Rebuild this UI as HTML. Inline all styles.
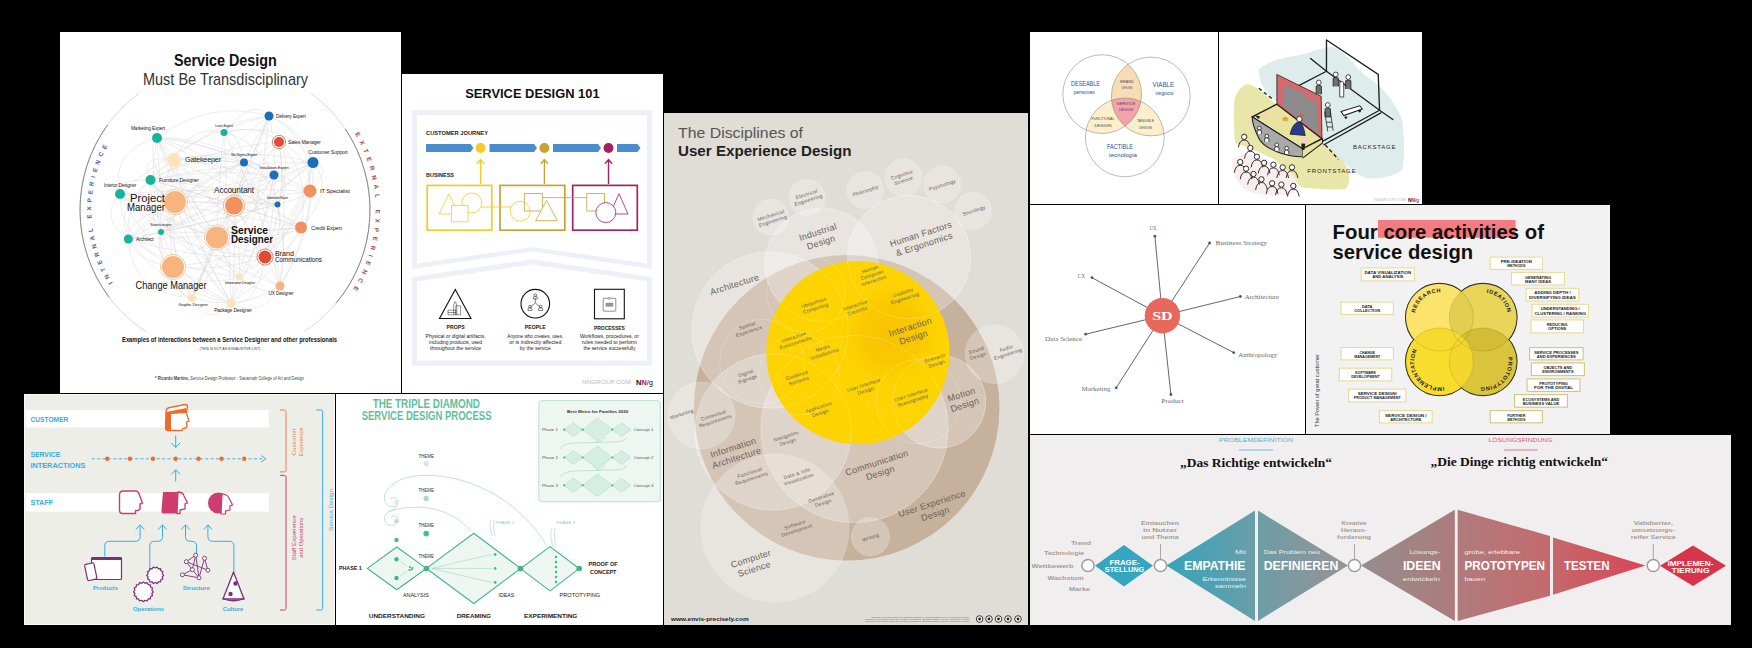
<!DOCTYPE html>
<html><head><meta charset="utf-8"><style>
html,body{margin:0;padding:0;background:#000;width:1752px;height:648px;overflow:hidden}
svg{display:block}

</style></head><body>
<svg width="1752" height="648" viewBox="0 0 1752 648" font-family='"Liberation Sans", sans-serif'>
<defs><clipPath id="cp1"><rect x="60" y="32" width="341" height="361"/></clipPath><clipPath id="cp2"><rect x="402" y="74" width="261" height="319"/></clipPath><clipPath id="cp3"><rect x="24" y="394" width="311" height="231"/></clipPath><clipPath id="cp4"><rect x="336" y="394" width="327" height="231"/></clipPath><clipPath id="cp5"><rect x="664" y="113" width="364" height="512"/></clipPath><clipPath id="cp6"><rect x="1030" y="32" width="188" height="172"/></clipPath><clipPath id="cp7"><rect x="1219" y="32" width="203" height="172"/></clipPath><clipPath id="cp8"><rect x="1030" y="205" width="275" height="229"/></clipPath><clipPath id="cp9"><rect x="1306" y="205" width="304" height="229"/></clipPath><clipPath id="cp10"><rect x="1030" y="435" width="701" height="190"/></clipPath></defs>
<rect x="0" y="0" width="1752" height="648" fill="#000"/>
<rect x="60" y="32" width="341" height="361" fill="#ffffff" /><rect x="402" y="74" width="261" height="319" fill="#ffffff" /><rect x="24" y="394" width="311" height="231" fill="#eeeee9" /><rect x="336" y="394" width="327" height="231" fill="#ffffff" /><rect x="664" y="113" width="364" height="512" fill="#e0dcd6" /><rect x="1030" y="32" width="188" height="172" fill="#ffffff" /><rect x="1219" y="32" width="203" height="172" fill="#ffffff" /><rect x="1030" y="205" width="275" height="229" fill="#ffffff" /><rect x="1306" y="205" width="304" height="229" fill="#f2f2f2" /><rect x="1030" y="435" width="701" height="190" fill="#f0eeef" /><g clip-path="url(#cp1)"><text x="225.3" y="65.9" font-size="16.5" fill="#111" font-weight="bold" text-anchor="middle" font-family='"Liberation Sans", sans-serif' textLength="102.8" lengthAdjust="spacingAndGlyphs" >Service Design</text><text x="225.5" y="85" font-size="17" fill="#333" font-weight="normal" text-anchor="middle" font-family='"Liberation Sans", sans-serif' textLength="165" lengthAdjust="spacingAndGlyphs" >Must Be Transdisciplinary</text><path d="M146.03,331.61 A145,145 0 0 1 138.95,93.29" fill="none" stroke="#cfcfcf" stroke-width="0.8"/><path d="M311.05,93.29 A145,145 0 0 1 304.61,331.19" fill="none" stroke="#cfcfcf" stroke-width="0.8"/><path d="M109.20,297.26 A145,145 0 0 1 107.69,124.77" fill="none" stroke="#888" stroke-width="1"/><path d="M345.21,128.92 A145,145 0 0 1 336.08,303.20" fill="none" stroke="#888" stroke-width="1"/><path id="arcL" d="M115.48,286.69 A133.7,133.7 0 0 1 122.58,124.06" fill="none"/><path id="arcR" d="M351.39,127.92 A150.7,150.7 0 0 1 340.44,306.87" fill="none"/><text font-size="6.2" font-weight="bold" fill="#3b62a8" letter-spacing="3.9"><textPath href="#arcL" startOffset="5">INTERNAL EXPERIENCE</textPath></text><text font-size="6.2" font-weight="bold" fill="#9a4a3c" letter-spacing="4.9"><textPath href="#arcR" startOffset="7">EXTERNAL EXPERIENCE</textPath></text><path d="M269.0,116.0Q253.2,96.8 224.0,132.5 M269.0,116.0Q209.0,98.9 157.0,138.0 M269.0,116.0Q301.2,128.1 313.0,162.5 M269.0,116.0Q263.4,123.2 244.0,162.5 M269.0,116.0Q203.6,122.3 150.5,180.0 M269.0,116.0Q184.1,135.5 120.0,194.0 M269.0,116.0Q311.5,133.6 310.0,191.0 M269.0,116.0Q261.4,141.7 234.0,205.6 M269.0,116.0Q211.2,159.7 161.0,232.0 M269.0,116.0Q245.9,171.1 217.0,237.4 M269.0,116.0Q282.4,177.2 265.0,257.0 M269.0,116.0Q232.6,205.0 192.0,298.0 M269.0,116.0Q260.8,208.4 231.0,303.0 M224.0,132.5Q256.6,123.0 279.0,142.0 M224.0,132.5Q287.6,119.1 313.0,162.5 M224.0,132.5Q190.2,124.0 174.0,160.0 M224.0,132.5Q236.7,128.0 244.0,162.5 M224.0,132.5Q255.1,138.9 274.0,175.0 M224.0,132.5Q218.7,173.9 217.0,237.4 M224.0,132.5Q262.8,208.2 280.0,286.0 M224.0,132.5Q227.9,218.7 231.0,303.0 M157.0,138.0Q142.3,124.4 174.0,160.0 M157.0,138.0Q195.7,138.2 244.0,162.5 M157.0,138.0Q211.9,135.4 274.0,175.0 M157.0,138.0Q109.6,150.6 120.0,194.0 M157.0,138.0Q236.6,147.1 310.0,191.0 M157.0,138.0Q141.6,152.6 175.0,202.0 M157.0,138.0Q213.8,152.9 277.5,204.5 M157.0,138.0Q147.6,180.3 161.0,232.0 M157.0,138.0Q179.0,182.6 217.0,237.4 M157.0,138.0Q230.3,173.1 301.0,227.6 M157.0,138.0Q208.7,195.1 265.0,257.0 M157.0,138.0Q186.6,205.5 239.6,277.0 M157.0,138.0Q159.9,219.7 192.0,298.0 M157.0,138.0Q183.4,223.4 231.0,303.0 M279.0,142.0Q211.9,146.8 150.5,180.0 M279.0,142.0Q311.2,155.6 310.0,191.0 M279.0,142.0Q266.4,161.8 234.0,205.6 M279.0,142.0Q292.9,162.6 277.5,204.5 M279.0,142.0Q196.6,183.3 128.4,239.0 M279.0,142.0Q312.0,175.6 301.0,227.6 M279.0,142.0Q288.6,195.1 265.0,257.0 M279.0,142.0Q226.4,201.8 173.0,267.0 M279.0,142.0Q288.7,214.3 280.0,286.0 M313.0,162.5Q248.8,146.7 174.0,160.0 M313.0,162.5Q311.3,157.5 274.0,175.0 M313.0,162.5Q233.5,160.6 150.5,180.0 M313.0,162.5Q334.3,167.5 310.0,191.0 M313.0,162.5Q289.1,175.1 234.0,205.6 M313.0,162.5Q239.6,194.1 161.0,232.0 M313.0,162.5Q273.2,197.5 217.0,237.4 M313.0,162.5Q336.5,189.0 301.0,227.6 M313.0,162.5Q304.8,209.2 265.0,257.0 M313.0,162.5Q250.2,215.9 173.0,267.0 M313.0,162.5Q297.2,222.9 239.6,277.0 M313.0,162.5Q314.4,227.3 280.0,286.0 M174.0,160.0Q205.5,150.2 244.0,162.5 M174.0,160.0Q223.7,153.8 274.0,175.0 M174.0,160.0Q137.6,153.5 150.5,180.0 M174.0,160.0Q246.0,167.0 310.0,191.0 M174.0,160.0Q156.6,193.0 161.0,232.0 M174.0,160.0Q122.6,194.6 128.4,239.0 M174.0,160.0Q188.0,195.3 217.0,237.4 M174.0,160.0Q240.9,188.8 301.0,227.6 M174.0,160.0Q217.2,207.0 265.0,257.0 M174.0,160.0Q165.7,213.7 173.0,267.0 M174.0,160.0Q192.7,240.0 231.0,303.0 M244.0,162.5Q186.9,156.0 150.5,180.0 M244.0,162.5Q205.8,175.2 175.0,202.0 M244.0,162.5Q242.1,178.0 234.0,205.6 M244.0,162.5Q272.4,174.2 277.5,204.5 M244.0,162.5Q193.7,191.5 161.0,232.0 M244.0,162.5Q169.9,196.0 128.4,239.0 M244.0,162.5Q275.8,228.8 280.0,286.0 M244.0,162.5Q216.3,234.6 192.0,298.0 M274.0,175.0Q208.8,168.0 150.5,180.0 M274.0,175.0Q224.4,183.2 175.0,202.0 M274.0,175.0Q295.3,181.2 277.5,204.5 M274.0,175.0Q215.9,201.7 161.0,232.0 M274.0,175.0Q191.8,205.0 128.4,239.0 M274.0,175.0Q253.4,204.0 217.0,237.4 M274.0,175.0Q267.6,230.7 239.6,277.0 M274.0,175.0Q234.9,242.2 192.0,298.0 M274.0,175.0Q261.0,247.3 231.0,303.0 M150.5,180.0Q109.1,179.7 120.0,194.0 M150.5,180.0Q152.4,187.5 175.0,202.0 M150.5,180.0Q186.1,189.2 234.0,205.6 M150.5,180.0Q209.1,183.5 277.5,204.5 M150.5,180.0Q113.7,208.7 128.4,239.0 M150.5,180.0Q173.7,207.9 217.0,237.4 M150.5,180.0Q226.0,201.0 301.0,227.6 M150.5,180.0Q148.6,225.9 173.0,267.0 M150.5,180.0Q189.4,231.6 239.6,277.0 M150.5,180.0Q184.8,246.6 231.0,303.0 M120.0,194.0Q212.4,187.4 310.0,191.0 M120.0,194.0Q188.5,194.3 277.5,204.5 M120.0,194.0Q97.8,217.7 128.4,239.0 M120.0,194.0Q148.1,217.0 217.0,237.4 M120.0,194.0Q205.3,210.4 301.0,227.6 M120.0,194.0Q185.2,228.5 265.0,257.0 M120.0,194.0Q118.4,237.1 173.0,267.0 M120.0,194.0Q167.3,242.0 239.6,277.0 M120.0,194.0Q189.7,251.6 280.0,286.0 M120.0,194.0Q154.7,263.8 231.0,303.0 M310.0,191.0Q285.6,194.3 234.0,205.6 M310.0,191.0Q320.8,192.1 277.5,204.5 M310.0,191.0Q291.1,241.2 239.6,277.0 M310.0,191.0Q308.5,243.6 280.0,286.0 M310.0,191.0Q278.6,253.2 231.0,303.0 M175.0,202.0Q196.0,200.4 234.0,205.6 M175.0,202.0Q226.4,201.9 277.5,204.5 M175.0,202.0Q122.1,223.9 128.4,239.0 M175.0,202.0Q228.5,256.2 280.0,286.0 M175.0,202.0Q168.4,263.9 192.0,298.0 M175.0,202.0Q194.8,267.7 231.0,303.0 M234.0,205.6Q190.7,220.5 161.0,232.0 M234.0,205.6Q276.2,217.5 301.0,227.6 M234.0,205.6Q257.7,237.8 265.0,257.0 M234.0,205.6Q239.9,248.9 239.6,277.0 M234.0,205.6Q265.2,254.4 280.0,286.0 M234.0,205.6Q210.9,258.8 192.0,298.0 M234.0,205.6Q235.8,273.0 231.0,303.0 M277.5,204.5Q217.1,220.6 161.0,232.0 M277.5,204.5Q195.1,225.2 128.4,239.0 M277.5,204.5Q284.9,236.3 265.0,257.0 M277.5,204.5Q288.4,251.2 280.0,286.0 M161.0,232.0Q122.0,242.1 128.4,239.0 M161.0,232.0Q232.4,233.9 301.0,227.6 M161.0,232.0Q209.1,255.1 265.0,257.0 M161.0,232.0Q154.3,257.7 173.0,267.0 M161.0,232.0Q159.0,284.2 192.0,298.0 M161.0,232.0Q184.2,290.0 231.0,303.0 M128.4,239.0Q212.5,237.9 301.0,227.6 M128.4,239.0Q188.4,258.6 265.0,257.0 M128.4,239.0Q135.7,261.3 173.0,267.0 M128.4,239.0Q173.9,269.3 239.6,277.0 M128.4,239.0Q131.2,293.8 192.0,298.0 M128.4,239.0Q164.8,290.5 231.0,303.0 M217.0,237.4Q272.6,240.7 301.0,227.6 M217.0,237.4Q229.5,273.8 239.6,277.0 M217.0,237.4Q196.9,288.3 192.0,298.0 M301.0,227.6Q295.7,248.9 265.0,257.0 M301.0,227.6Q241.4,260.2 173.0,267.0 M301.0,227.6Q274.5,276.3 231.0,303.0 M265.0,257.0Q217.8,272.3 173.0,267.0 M265.0,257.0Q257.4,307.8 231.0,303.0 M173.0,267.0Q201.1,288.6 239.6,277.0 M173.0,267.0Q174.9,295.0 192.0,298.0 M239.6,277.0Q268.7,299.4 280.0,286.0 M280.0,286.0Q238.8,312.0 192.0,298.0 M280.0,286.0Q264.5,318.9 231.0,303.0 M192.0,298.0Q207.1,329.3 231.0,303.0" fill="none" stroke="#d6d6d6" stroke-width="0.45"/><circle cx="269" cy="116" r="4.5" fill="#1a6fb8"/><text x="276" y="117.5" font-size="4.7" fill="#222" font-weight="normal" text-anchor="start" font-family='"Liberation Sans", sans-serif' letter-spacing="-0.15">Delivery Expert</text><circle cx="224" cy="132.5" r="3.5" fill="#17b39b"/><text x="224" y="127" font-size="3.58" fill="#222" font-weight="normal" text-anchor="middle" font-family='"Liberation Sans", sans-serif' letter-spacing="-0.15">Lean Expert</text><circle cx="157" cy="138" r="5" fill="#17b39b"/><text x="148" y="130" font-size="4.82" fill="#222" font-weight="normal" text-anchor="middle" font-family='"Liberation Sans", sans-serif' letter-spacing="-0.15">Marketing Expert</text><circle cx="279" cy="142" r="6.6" fill="#fff" stroke="#e04b36" stroke-width="0.7"/><circle cx="279" cy="142" r="5" fill="#e04b36"/><text x="288" y="144" font-size="5.15" fill="#222" font-weight="normal" text-anchor="start" font-family='"Liberation Sans", sans-serif' letter-spacing="-0.15">Sales Manager</text><circle cx="313" cy="162.5" r="5.5" fill="#1a6fb8"/><text x="328" y="154" font-size="5.15" fill="#222" font-weight="normal" text-anchor="middle" font-family='"Liberation Sans", sans-serif' letter-spacing="-0.15">Customer Support</text><circle cx="174" cy="160" r="7" fill="#fde2bd"/><text x="185" y="162" font-size="7.17" fill="#222" font-weight="normal" text-anchor="start" font-family='"Liberation Sans", sans-serif' letter-spacing="-0.15">Gatekeeper</text><circle cx="244" cy="162.5" r="4" fill="#1a6fb8"/><text x="244" y="156" font-size="3.7" fill="#222" font-weight="normal" text-anchor="middle" font-family='"Liberation Sans", sans-serif' letter-spacing="-0.15">Six Sigma Expert</text><circle cx="274" cy="175" r="4.5" fill="#1a6fb8"/><text x="274" y="168.5" font-size="4.03" fill="#222" font-weight="normal" text-anchor="middle" font-family='"Liberation Sans", sans-serif' letter-spacing="-0.15">Installation Expert</text><circle cx="150.5" cy="180" r="5" fill="#17b39b"/><text x="159" y="182" font-size="5.15" fill="#222" font-weight="normal" text-anchor="start" font-family='"Liberation Sans", sans-serif' letter-spacing="-0.15">Furniture Designer</text><circle cx="120" cy="194" r="5" fill="#17b39b"/><text x="120" y="187" font-size="4.7" fill="#222" font-weight="normal" text-anchor="middle" font-family='"Liberation Sans", sans-serif' letter-spacing="-0.15">Interior Designer</text><circle cx="310" cy="191" r="6.5" fill="#f2915f"/><text x="320" y="193" font-size="5.82" fill="#222" font-weight="normal" text-anchor="start" font-family='"Liberation Sans", sans-serif' letter-spacing="-0.15">IT Specialist</text><circle cx="175" cy="202" r="12.6" fill="#fff" stroke="#f7b47e" stroke-width="0.7"/><circle cx="175" cy="202" r="11" fill="#f7b47e"/><circle cx="234" cy="205.6" r="10.6" fill="#fff" stroke="#f2915f" stroke-width="0.7"/><circle cx="234" cy="205.6" r="9" fill="#f2915f"/><text x="234" y="192.5" font-size="8.29" fill="#222" font-weight="normal" text-anchor="middle" font-family='"Liberation Sans", sans-serif' letter-spacing="-0.15">Accountant</text><circle cx="277.5" cy="204.5" r="3" fill="#1a6fb8"/><text x="277.5" y="199" font-size="2.91" fill="#222" font-weight="normal" text-anchor="middle" font-family='"Liberation Sans", sans-serif' letter-spacing="-0.15">Information Expert</text><circle cx="161" cy="232" r="3" fill="#17b39b"/><text x="161" y="226" font-size="2.91" fill="#222" font-weight="normal" text-anchor="middle" font-family='"Liberation Sans", sans-serif' letter-spacing="-0.15">Business designer</text><circle cx="128.4" cy="239" r="4.5" fill="#17b39b"/><text x="136" y="241" font-size="4.82" fill="#222" font-weight="normal" text-anchor="start" font-family='"Liberation Sans", sans-serif' letter-spacing="-0.15">Architect</text><circle cx="217" cy="237.4" r="12.6" fill="#fff" stroke="#f7b47e" stroke-width="0.7"/><circle cx="217" cy="237.4" r="11" fill="#f7b47e"/><circle cx="301" cy="227.6" r="6" fill="#f2915f"/><text x="311" y="229.5" font-size="5.6" fill="#222" font-weight="normal" text-anchor="start" font-family='"Liberation Sans", sans-serif' letter-spacing="-0.15">Credit Expert</text><circle cx="265" cy="257" r="8.1" fill="#fff" stroke="#e04b36" stroke-width="0.7"/><circle cx="265" cy="257" r="6.5" fill="#e04b36"/><circle cx="173" cy="267" r="12.6" fill="#fff" stroke="#f7b47e" stroke-width="0.7"/><circle cx="173" cy="267" r="11" fill="#f7b47e"/><circle cx="239.6" cy="277" r="3.5" fill="#fde2bd"/><text x="240" y="284" font-size="3.58" fill="#222" font-weight="normal" text-anchor="middle" font-family='"Liberation Sans", sans-serif' letter-spacing="-0.15">Information Designer</text><circle cx="280" cy="286" r="4.5" fill="#f7b47e"/><text x="281" y="295" font-size="4.7" fill="#222" font-weight="normal" text-anchor="middle" font-family='"Liberation Sans", sans-serif' letter-spacing="-0.15">UX Designer</text><circle cx="192" cy="298" r="4" fill="#fde2bd"/><text x="193" y="306" font-size="4.14" fill="#222" font-weight="normal" text-anchor="middle" font-family='"Liberation Sans", sans-serif' letter-spacing="-0.15">Graphic Designer</text><circle cx="231" cy="303" r="4.5" fill="#fde2bd"/><text x="233" y="311.5" font-size="4.93" fill="#222" font-weight="normal" text-anchor="middle" font-family='"Liberation Sans", sans-serif' letter-spacing="-0.15">Package Designer</text><text x="165" y="201.5" font-size="11" fill="#111" font-weight="normal" text-anchor="end" font-family='"Liberation Sans", sans-serif' textLength="35" lengthAdjust="spacingAndGlyphs" >Project</text><text x="165" y="211" font-size="11" fill="#111" font-weight="normal" text-anchor="end" font-family='"Liberation Sans", sans-serif' textLength="38" lengthAdjust="spacingAndGlyphs" >Manager</text><text x="231" y="234" font-size="11" fill="#111" font-weight="bold" text-anchor="start" font-family='"Liberation Sans", sans-serif' textLength="37" lengthAdjust="spacingAndGlyphs" >Service</text><text x="231" y="242.5" font-size="11" fill="#111" font-weight="bold" text-anchor="start" font-family='"Liberation Sans", sans-serif' textLength="42" lengthAdjust="spacingAndGlyphs" >Designer</text><text x="275" y="256" font-size="7.5" fill="#111" font-weight="normal" text-anchor="start" font-family='"Liberation Sans", sans-serif' textLength="19" lengthAdjust="spacingAndGlyphs" >Brand</text><text x="275" y="262" font-size="7.5" fill="#111" font-weight="normal" text-anchor="start" font-family='"Liberation Sans", sans-serif' textLength="47" lengthAdjust="spacingAndGlyphs" >Communications</text><text x="171" y="289" font-size="11" fill="#111" font-weight="normal" text-anchor="middle" font-family='"Liberation Sans", sans-serif' textLength="71" lengthAdjust="spacingAndGlyphs" >Change Manager</text><text x="229.5" y="341.5" font-size="7" fill="#111" font-weight="bold" text-anchor="middle" font-family='"Liberation Sans", sans-serif' textLength="215" lengthAdjust="spacingAndGlyphs" >Examples of interactions between a Service Designer and other professionals</text><text x="230" y="349.5" font-size="3.6" fill="#444" font-weight="normal" text-anchor="middle" font-family='"Liberation Sans", sans-serif' textLength="61" lengthAdjust="spacingAndGlyphs" >(THIS IS NOT AN EXHAUSTIVE LIST)</text><text x="155" y="379.5" font-size="4.6" fill="#444" font-weight="normal" text-anchor="start" font-family='"Liberation Sans", sans-serif' textLength="149" lengthAdjust="spacingAndGlyphs" ><tspan font-weight="bold">* Ricardo Martins,</tspan> Service Design Professor - Savannah College of Art and Design</text></g><g clip-path="url(#cp2)"><text x="532.4" y="98" font-size="12.5" fill="#111" font-weight="bold" text-anchor="middle" font-family='"Liberation Sans", sans-serif' textLength="134.5" lengthAdjust="spacingAndGlyphs" >SERVICE DESIGN 101</text><polygon points="412.00,110.00 652.00,110.00 652.00,269.00 532.30,251.50 412.00,269.00" fill="#eef0f7" stroke="none" stroke-width="1" /><polygon points="416.90,115.00 647.00,115.00 647.00,263.40 532.30,247.00 416.90,263.40" fill="#fff" stroke="none" stroke-width="1" /><polygon points="412.00,277.10 532.30,259.30 652.00,277.10 652.00,365.80 412.00,365.80" fill="#eef0f7" stroke="none" stroke-width="1" /><polygon points="416.90,281.30 532.30,264.50 647.00,281.30 647.00,360.80 416.90,360.80" fill="#fff" stroke="none" stroke-width="1" /><text x="426" y="135" font-size="4.6" fill="#222" font-weight="bold" text-anchor="start" font-family='"Liberation Sans", sans-serif' textLength="62" lengthAdjust="spacingAndGlyphs" >CUSTOMER JOURNEY</text><text x="426" y="177" font-size="4.6" fill="#222" font-weight="bold" text-anchor="start" font-family='"Liberation Sans", sans-serif' textLength="28" lengthAdjust="spacingAndGlyphs" >BUSINESS</text><polygon points="426.00,144.00 470.50,144.00 473.50,148.00 470.50,152.00 426.00,152.00" fill="#4a8dcf" stroke="none" stroke-width="1" /><polygon points="489.50,144.00 534.00,144.00 537.00,148.00 534.00,152.00 489.50,152.00" fill="#4a8dcf" stroke="none" stroke-width="1" /><polygon points="553.00,144.00 598.00,144.00 601.00,148.00 598.00,152.00 553.00,152.00" fill="#4a8dcf" stroke="none" stroke-width="1" /><polygon points="617.00,144.00 637.50,144.00 640.50,148.00 637.50,152.00 617.00,152.00" fill="#4a8dcf" stroke="none" stroke-width="1" /><circle cx="480.6" cy="148" r="5" fill="#f8c928"/><path d="M480.6,184 V159.8 M477.0,163.8 L480.6,159.6 L484.20000000000005,163.8" fill="none" stroke="#f8c928" stroke-width="1.4"/><circle cx="544.4" cy="148" r="5" fill="#c9a232"/><path d="M544.4,184 V159.8 M540.8,163.8 L544.4,159.6 L548.0,163.8" fill="none" stroke="#c9a232" stroke-width="1.4"/><circle cx="608.5" cy="148" r="5" fill="#a3235f"/><path d="M608.5,184 V159.8 M604.9,163.8 L608.5,159.6 L612.1,163.8" fill="none" stroke="#a3235f" stroke-width="1.4"/><rect x="427.2" y="185.4" width="64.6" height="44.8" fill="none" stroke="#f8c928" stroke-width="1.7"/><rect x="500" y="185.4" width="64.8" height="44.8" fill="none" stroke="#c9a232" stroke-width="1.7"/><rect x="572.7" y="185.4" width="64.6" height="44.8" fill="none" stroke="#a3235f" stroke-width="1.7"/><path d="M468,207 H520" stroke="#f8c928" stroke-width="0.8"/><polygon points="449.00,194.00 459.00,214.00 439.00,214.00" fill="#fff" stroke="#f8c928" stroke-width="0.8" /><circle cx="471.8" cy="203" r="10" fill="#fff" stroke="#f8c928" stroke-width="0.8"/><rect x="451.5" y="205.3" width="16.5" height="16.5" fill="#fff" stroke="#f8c928" stroke-width="0.8"/><circle cx="520.2" cy="211.2" r="10" fill="#fff" stroke="#f8c928" stroke-width="0.8"/><path d="M542.5,197.6 H587" stroke="#c9a232" stroke-width="0.8"/><rect x="524.3" y="193.6" width="18" height="17.4" fill="none" stroke="#c9a232" stroke-width="0.8"/><polygon points="546.50,200.40 557.40,220.70 535.70,220.70" fill="#fff" stroke="#c9a232" stroke-width="0.8" /><rect x="586.8" y="193.6" width="17.6" height="17.4" fill="#fff" stroke="#c9a232" stroke-width="0.8"/><polygon points="619.00,193.60 628.00,214.00 610.00,214.00" fill="#fff" stroke="#a3235f" stroke-width="0.8" /><circle cx="605.8" cy="212.6" r="10" fill="#fff" stroke="#a3235f" stroke-width="0.8"/><polygon points="455.30,289.50 471.00,318.50 439.50,318.50" fill="#fff" stroke="#111" stroke-width="1.1" /><path d="M448,310.2 h7.8 v4.6 h-7.8z M448,312.5 h7.8 M453.6,314.8 V305 l0.8,-1.5 v-1.5 h1.6 v1.5 l0.8,1.5 V314.8 M455.8,305.8 h4.8 v9 h-4.8z" fill="#fff" stroke="#111" stroke-width="0.45"/><circle cx="535.3" cy="303.7" r="14.3" fill="#fff" stroke="#111" stroke-width="1.1"/><path d="M535.3,298 v5 l-5,4 M535.3,303 l5,4" fill="none" stroke="#111" stroke-width="0.5"/><circle cx="535.3" cy="295.2" r="1.4" fill="none" stroke="#111" stroke-width="0.5"/><path d="M533.3,299 v-2 q2,-2 4,0 v2z" fill="none" stroke="#111" stroke-width="0.5"/><circle cx="530" cy="306.7" r="1.4" fill="none" stroke="#111" stroke-width="0.5"/><path d="M528,310.5 v-2 q2,-2 4,0 v2z" fill="none" stroke="#111" stroke-width="0.5"/><circle cx="540.6" cy="306.7" r="1.4" fill="none" stroke="#111" stroke-width="0.5"/><path d="M538.6,310.5 v-2 q2,-2 4,0 v2z" fill="none" stroke="#111" stroke-width="0.5"/><rect x="594.5" y="289.3" width="29.8" height="29.5" fill="#fff" stroke="#111" stroke-width="1.1"/><rect x="603.2" y="298.3" width="12.6" height="12.9" rx="0.8" fill="#fff" stroke="#444" stroke-width="0.6"/><rect x="605.6" y="302.8" width="7.6" height="3.8" fill="#888"/><path d="M605.6,304.1 h7.6 M605.6,305.4 h7.6" stroke="#ccc" stroke-width="0.3"/><circle cx="609.2" cy="298.4" r="1.1" fill="#fff" stroke="#555" stroke-width="0.5"/><text x="455.6" y="329" font-size="5" fill="#222" font-weight="bold" text-anchor="middle" font-family='"Liberation Sans", sans-serif' textLength="18" lengthAdjust="spacingAndGlyphs" >PROPS</text><text x="535.3" y="329" font-size="5" fill="#222" font-weight="bold" text-anchor="middle" font-family='"Liberation Sans", sans-serif' textLength="21" lengthAdjust="spacingAndGlyphs" >PEOPLE</text><text x="609.4" y="329.5" font-size="5" fill="#222" font-weight="bold" text-anchor="middle" font-family='"Liberation Sans", sans-serif' textLength="31" lengthAdjust="spacingAndGlyphs" >PROCESSES</text><text x="455.6" y="337.5" font-size="4.6" fill="#222" font-weight="normal" text-anchor="middle" font-family='"Liberation Sans", sans-serif' textLength="60" lengthAdjust="spacingAndGlyphs" >Physical or digital artifacts,</text><text x="455.6" y="343.5" font-size="4.6" fill="#222" font-weight="normal" text-anchor="middle" font-family='"Liberation Sans", sans-serif' textLength="53" lengthAdjust="spacingAndGlyphs" >including products, used</text><text x="455.6" y="349.5" font-size="4.6" fill="#222" font-weight="normal" text-anchor="middle" font-family='"Liberation Sans", sans-serif' textLength="51" lengthAdjust="spacingAndGlyphs" >throughout the service</text><text x="535.3" y="337.5" font-size="4.6" fill="#222" font-weight="normal" text-anchor="middle" font-family='"Liberation Sans", sans-serif' textLength="56" lengthAdjust="spacingAndGlyphs" >Anyone who creates, uses,</text><text x="535.3" y="343.5" font-size="4.6" fill="#222" font-weight="normal" text-anchor="middle" font-family='"Liberation Sans", sans-serif' textLength="52" lengthAdjust="spacingAndGlyphs" >or is indirectly affected</text><text x="535.3" y="349.5" font-size="4.6" fill="#222" font-weight="normal" text-anchor="middle" font-family='"Liberation Sans", sans-serif' textLength="31" lengthAdjust="spacingAndGlyphs" >by the service</text><text x="609.4" y="337.5" font-size="4.6" fill="#222" font-weight="normal" text-anchor="middle" font-family='"Liberation Sans", sans-serif' textLength="59" lengthAdjust="spacingAndGlyphs" >Workflows, procedures, or</text><text x="609.4" y="343.5" font-size="4.6" fill="#222" font-weight="normal" text-anchor="middle" font-family='"Liberation Sans", sans-serif' textLength="55" lengthAdjust="spacingAndGlyphs" >rules needed to perform</text><text x="609.4" y="349.5" font-size="4.6" fill="#222" font-weight="normal" text-anchor="middle" font-family='"Liberation Sans", sans-serif' textLength="52" lengthAdjust="spacingAndGlyphs" >the service successfully</text><text x="582" y="384" font-size="5.5" fill="#bbb" font-weight="normal" text-anchor="start" font-family='"Liberation Sans", sans-serif' textLength="49" lengthAdjust="spacingAndGlyphs" >NNGROUP.COM</text><text x="636" y="385" font-size="8" font-weight="bold" fill="#111" font-family='"Liberation Sans", sans-serif' textLength="17" lengthAdjust="spacingAndGlyphs">N<tspan fill="#d0122a">N</tspan><tspan font-weight="normal">/g</tspan></text></g><g clip-path="url(#cp3)"><rect x="24.5" y="394.5" width="310" height="230" fill="none" stroke="#fafaf7" stroke-width="1"/><rect x="25.8" y="410" width="242.89999999999998" height="17.399999999999977" fill="#fff" /><rect x="25.8" y="493" width="242.89999999999998" height="18.600000000000023" fill="#fff" /><text x="30.4" y="422" font-size="6.6" fill="#38abe3" font-weight="bold" text-anchor="start" font-family='"Liberation Sans", sans-serif' textLength="38" lengthAdjust="spacingAndGlyphs" >CUSTOMER</text><text x="30.4" y="456.5" font-size="6.6" fill="#38abe3" font-weight="bold" text-anchor="start" font-family='"Liberation Sans", sans-serif' textLength="30" lengthAdjust="spacingAndGlyphs" >SERVICE</text><text x="30.4" y="467.5" font-size="6.6" fill="#38abe3" font-weight="bold" text-anchor="start" font-family='"Liberation Sans", sans-serif' textLength="55" lengthAdjust="spacingAndGlyphs" >INTERACTIONS</text><text x="30.4" y="505" font-size="6.6" fill="#38abe3" font-weight="bold" text-anchor="start" font-family='"Liberation Sans", sans-serif' textLength="22.5" lengthAdjust="spacingAndGlyphs" >STAFF</text><path d="M91.8,458.8 H264" stroke="#38abe3" stroke-width="0.9" stroke-dasharray="3.2,2.2"/><path d="M261,455.5 L266,458.8 L261,462" fill="none" stroke="#38abe3" stroke-width="0.9"/><circle cx="107.2" cy="458.8" r="2.2" fill="#ef6a2c"/><circle cx="130" cy="458.8" r="2.2" fill="#ef6a2c"/><circle cx="152.9" cy="458.8" r="2.2" fill="#ef6a2c"/><circle cx="175.6" cy="458.8" r="2.2" fill="#ef6a2c"/><circle cx="198.6" cy="458.8" r="2.2" fill="#ef6a2c"/><circle cx="221.5" cy="458.8" r="2.2" fill="#ef6a2c"/><circle cx="244.2" cy="458.8" r="2.2" fill="#ef6a2c"/><path d="M175.7,435.5 V447.5 M171.4,443 L175.7,447.5 L180,443" fill="none" stroke="#38abe3" stroke-width="1"/><path d="M175.7,481.5 V469.8 M171.4,474.3 L175.7,469.8 L180,474.3" fill="none" stroke="#38abe3" stroke-width="1"/><path d="M166,412 Q166,408 170,407.5 L185,404.5 Q187.5,404.5 187.5,407 L186.5,413 L189,421 L186.5,422 L187,426 Q186,429 183,428.5 L182,430.5 H168 Q165.5,430.5 165.5,428 Z" fill="#fff" stroke="#ef6a2c" stroke-width="1.3"/><path d="M166,412 L186.5,408 L186.5,413 L171,414 L171,430 H166Z" fill="#ef6a2c"/><path d="M119.5,495 Q119.5,491 123.5,491 H135.5 Q138.5,491 139.5,495 L142.5,503 L140.0,504 L140.0,509 Q138.5,511 135.5,510.5 L135.5,513.5 H122.5 Q119.5,513.5 119.5,510Z" fill="#fff" stroke="#cc3d6e" stroke-width="1.4"/><path d="M163,492 H178 L179,513.5 H164 Q161,513.5 161.5,510 Z" fill="#cc3d6e"/><path d="M178,492 Q183,492 184,496 L187.5,503 L185,504 L185,509 L180,510 L180,513.5 H177Z" fill="#fff" stroke="#cc3d6e" stroke-width="1.3"/><circle cx="218.5" cy="503" r="10.5" fill="#cc3d6e"/><path d="M222,494 Q227,494 229,498 L232.5,505 L230,506 L230,510 L225.5,511 L225.5,514 H221Z" fill="#fff" stroke="#cc3d6e" stroke-width="1.2"/><path d="M104.8,556.6 V546 Q104.8,541.3 109.5,541.3 H135.4 Q140.1,541.3 140.1,536.6 V525.5 M135.9,529.5 L140.1,524.8 L144.3,529.5" fill="none" stroke="#38abe3" stroke-width="1"/><path d="M149.8,569.3 V546 Q149.8,541.3 154.5,541.3 H157.8 Q162.5,541.3 162.5,536.6 V525.5 M158.3,529.5 L162.5,524.8 L166.7,529.5" fill="none" stroke="#38abe3" stroke-width="1"/><path d="M196.5,553.2 V546 Q196.5,541.3 191.8,541.3 H190.2 Q185.5,541.3 185.5,536.6 V525.5 M181.3,529.5 L185.5,524.8 L189.7,529.5" fill="none" stroke="#38abe3" stroke-width="1"/><path d="M233.9,571.9 V546 Q233.9,541.3 229.2,541.3 H212.6 Q207.9,541.3 207.9,536.6 V525.5 M203.7,529.5 L207.9,524.8 L212.1,529.5" fill="none" stroke="#38abe3" stroke-width="1"/><rect x="91.5" y="557.5" width="30" height="22" rx="1" fill="#fff" stroke="#7b2f7a" stroke-width="1.2"/><rect x="91.5" y="557.5" width="30" height="2.5" fill="#7b2f7a"/><rect x="86" y="563.5" width="9.5" height="16.5" rx="1.5" fill="#fff" stroke="#7b2f7a" stroke-width="1.2" transform="rotate(-12 90.7 571.7)"/><polygon points="163.70,575.30 162.22,576.90 162.86,578.99 160.83,579.79 160.50,581.95 158.32,581.79 157.09,583.59 155.20,582.50 153.31,583.59 152.08,581.79 149.90,581.95 149.57,579.79 147.54,578.99 148.18,576.90 146.70,575.30 148.18,573.70 147.54,571.61 149.57,570.81 149.90,568.65 152.08,568.81 153.31,567.01 155.20,568.10 157.09,567.01 158.32,568.81 160.50,568.65 160.83,570.81 162.86,571.61 162.22,573.70" fill="#fff" stroke="#7b2f7a" stroke-width="1.2" stroke-linejoin="round"/><polygon points="153.30,591.80 151.83,593.48 152.55,595.59 150.55,596.58 150.40,598.80 148.18,598.95 147.19,600.95 145.08,600.23 143.40,601.70 141.72,600.23 139.61,600.95 138.62,598.95 136.40,598.80 136.25,596.58 134.25,595.59 134.97,593.48 133.50,591.80 134.97,590.12 134.25,588.01 136.25,587.02 136.40,584.80 138.62,584.65 139.61,582.65 141.72,583.37 143.40,581.90 145.08,583.37 147.19,582.65 148.18,584.65 150.40,584.80 150.55,587.02 152.55,588.01 151.83,590.12" fill="#fff" stroke="#7b2f7a" stroke-width="1.2" stroke-linejoin="round"/><path d="M195.7,555.2L186.3,561.7 M195.7,555.2L199,577.8 M204.5,558.3L199,577.8 M204.5,558.3L207.9,570.2 M186.3,561.7L207.9,570.2 M192.3,569.7L182.4,574.8 M186.3,561.7L192.3,569.7 M192.3,569.7L199,577.8 M182.4,574.8L199,577.8 M195.7,555.2L192.3,569.7" stroke="#7b2f7a" stroke-width="0.9"/><circle cx="195.7" cy="555.2" r="2" fill="#fff" stroke="#7b2f7a" stroke-width="0.9"/><circle cx="204.5" cy="558.3" r="2" fill="#fff" stroke="#7b2f7a" stroke-width="0.9"/><circle cx="186.3" cy="561.7" r="2" fill="#fff" stroke="#7b2f7a" stroke-width="0.9"/><circle cx="192.3" cy="569.7" r="2" fill="#fff" stroke="#7b2f7a" stroke-width="0.9"/><circle cx="207.9" cy="570.2" r="2" fill="#fff" stroke="#7b2f7a" stroke-width="0.9"/><circle cx="182.4" cy="574.8" r="2" fill="#fff" stroke="#7b2f7a" stroke-width="0.9"/><circle cx="199" cy="577.8" r="2" fill="#fff" stroke="#7b2f7a" stroke-width="0.9"/><polygon points="233.50,572.00 244.00,599.00 223.00,599.00" fill="#fff" stroke="#7b2f7a" stroke-width="1.3" stroke-linejoin="round"/><path d="M222.5,598.5 Q233.5,603 244.5,598.5" fill="none" stroke="#7b2f7a" stroke-width="1.3"/><circle cx="235.5" cy="583.5" r="2.2" fill="#7b2f7a"/><circle cx="230.5" cy="594" r="2.2" fill="#7b2f7a"/><text x="105.5" y="590" font-size="5.2" fill="#38abe3" font-weight="bold" text-anchor="middle" font-family='"Liberation Sans", sans-serif' textLength="25" lengthAdjust="spacingAndGlyphs" >Products</text><text x="148.5" y="611" font-size="5.2" fill="#38abe3" font-weight="bold" text-anchor="middle" font-family='"Liberation Sans", sans-serif' textLength="31" lengthAdjust="spacingAndGlyphs" >Operations</text><text x="196.3" y="590" font-size="5.2" fill="#38abe3" font-weight="bold" text-anchor="middle" font-family='"Liberation Sans", sans-serif' textLength="27" lengthAdjust="spacingAndGlyphs" >Structure</text><text x="233" y="611" font-size="5.2" fill="#38abe3" font-weight="bold" text-anchor="middle" font-family='"Liberation Sans", sans-serif' textLength="20.5" lengthAdjust="spacingAndGlyphs" >Culture</text><path d="M280,410 H284.5 Q286,410 286,411.5 V470.4 Q286,471.9 284.5,471.9 H280" fill="none" stroke="#f08048" stroke-width="1"/><path d="M280,475.4 H284.5 Q286,475.4 286,476.9 V608.5 Q286,610 284.5,610 H280" fill="none" stroke="#cc3d6e" stroke-width="1"/><path d="M316.4,410 H321.1 Q322.6,410 322.6,411.5 V608.5 Q322.6,610 321.1,610 H316.4" fill="none" stroke="#38abe3" stroke-width="1"/><g transform="translate(295.5 442) rotate(-90)"><text x="0" y="0" font-size="5.2" fill="#f08048" font-weight="normal" text-anchor="middle" font-family='"Liberation Sans", sans-serif' textLength="27" lengthAdjust="spacingAndGlyphs" >Customer</text><text x="0" y="7.2" font-size="5.2" fill="#f08048" font-weight="normal" text-anchor="middle" font-family='"Liberation Sans", sans-serif' textLength="29" lengthAdjust="spacingAndGlyphs" >Experience</text></g><g transform="translate(295.5 537.7) rotate(-90)"><text x="0" y="0" font-size="5.2" fill="#cc3d6e" font-weight="normal" text-anchor="middle" font-family='"Liberation Sans", sans-serif' textLength="45" lengthAdjust="spacingAndGlyphs" >Staff Experience</text><text x="0" y="7.2" font-size="5.2" fill="#cc3d6e" font-weight="normal" text-anchor="middle" font-family='"Liberation Sans", sans-serif' textLength="40" lengthAdjust="spacingAndGlyphs" >and Operations</text></g><g transform="translate(332.5 510) rotate(-90)"><text x="0" y="0" font-size="5.2" fill="#38abe3" font-weight="normal" text-anchor="middle" font-family='"Liberation Sans", sans-serif' textLength="42" lengthAdjust="spacingAndGlyphs" >Service Design</text></g></g><g clip-path="url(#cp4)"><text x="426.3" y="408.3" font-size="12" fill="#5fbf9c" font-weight="bold" text-anchor="middle" font-family='"Liberation Sans", sans-serif' textLength="107.3" lengthAdjust="spacingAndGlyphs" >THE TRIPLE DIAMOND</text><text x="426.6" y="419.7" font-size="12" fill="#5fbf9c" font-weight="bold" text-anchor="middle" font-family='"Liberation Sans", sans-serif' textLength="129.8" lengthAdjust="spacingAndGlyphs" >SERVICE DESIGN PROCESS</text><rect x="538.8" y="400.7" width="121.5" height="101" rx="2.5" fill="#eef6f2" stroke="#a9d9c2" stroke-width="0.8"/><text x="597.7" y="412.5" font-size="4.3" fill="#333" font-weight="bold" text-anchor="middle" font-family='"Liberation Sans", sans-serif' textLength="61.4" lengthAdjust="spacingAndGlyphs" >Best Metro for Families 2020</text><text x="542" y="431.2" font-size="4" fill="#555" font-weight="normal" text-anchor="start" font-family='"Liberation Sans", sans-serif' textLength="15.8" lengthAdjust="spacingAndGlyphs" >Phase 1</text><text x="633.7" y="431.2" font-size="4" fill="#555" font-weight="normal" text-anchor="start" font-family='"Liberation Sans", sans-serif' textLength="19.7" lengthAdjust="spacingAndGlyphs" >Concept 1</text><polygon points="564.20,429.70 573.40,422.70 582.70,429.70 573.40,436.70" fill="#d6ede2" stroke="#a9d9c2" stroke-width="0.5" /><polygon points="582.70,429.70 597.50,418.30 612.30,429.70 597.50,441.10" fill="#d6ede2" stroke="#a9d9c2" stroke-width="0.5" /><polygon points="612.30,429.70 621.60,422.70 630.90,429.70 621.60,436.70" fill="#d6ede2" stroke="#a9d9c2" stroke-width="0.5" /><circle cx="564.2" cy="429.7" r="1.1" fill="#3fb68b"/><circle cx="582.7" cy="429.7" r="1.1" fill="#3fb68b"/><circle cx="612.3" cy="429.7" r="1.1" fill="#3fb68b"/><text x="542" y="459.0" font-size="4" fill="#555" font-weight="normal" text-anchor="start" font-family='"Liberation Sans", sans-serif' textLength="15.8" lengthAdjust="spacingAndGlyphs" >Phase 2</text><text x="633.7" y="459.0" font-size="4" fill="#555" font-weight="normal" text-anchor="start" font-family='"Liberation Sans", sans-serif' textLength="19.7" lengthAdjust="spacingAndGlyphs" >Concept 2</text><polygon points="564.20,457.50 573.40,450.50 582.70,457.50 573.40,464.50" fill="#d6ede2" stroke="#a9d9c2" stroke-width="0.5" /><polygon points="582.70,457.50 597.50,446.10 612.30,457.50 597.50,468.90" fill="#d6ede2" stroke="#a9d9c2" stroke-width="0.5" /><polygon points="612.30,457.50 621.60,450.50 630.90,457.50 621.60,464.50" fill="#d6ede2" stroke="#a9d9c2" stroke-width="0.5" /><circle cx="564.2" cy="457.5" r="1.1" fill="#3fb68b"/><circle cx="582.7" cy="457.5" r="1.1" fill="#3fb68b"/><circle cx="612.3" cy="457.5" r="1.1" fill="#3fb68b"/><text x="542" y="486.8" font-size="4" fill="#555" font-weight="normal" text-anchor="start" font-family='"Liberation Sans", sans-serif' textLength="15.8" lengthAdjust="spacingAndGlyphs" >Phase 3</text><text x="633.7" y="486.8" font-size="4" fill="#555" font-weight="normal" text-anchor="start" font-family='"Liberation Sans", sans-serif' textLength="19.7" lengthAdjust="spacingAndGlyphs" >Concept 3</text><polygon points="564.20,485.30 573.40,478.30 582.70,485.30 573.40,492.30" fill="#d6ede2" stroke="#a9d9c2" stroke-width="0.5" /><polygon points="582.70,485.30 597.50,473.90 612.30,485.30 597.50,496.70" fill="#d6ede2" stroke="#a9d9c2" stroke-width="0.5" /><polygon points="612.30,485.30 621.60,478.30 630.90,485.30 621.60,492.30" fill="#d6ede2" stroke="#a9d9c2" stroke-width="0.5" /><circle cx="564.2" cy="485.3" r="1.1" fill="#3fb68b"/><circle cx="582.7" cy="485.3" r="1.1" fill="#3fb68b"/><circle cx="612.3" cy="485.3" r="1.1" fill="#3fb68b"/><path d="M626.5,437 Q627,442 612,442 L575,443 Q561,444 561,449 M626.5,465 Q627,470 612,470 L575,471 Q561,472 561,477 M605,437 Q604,441 596,442 M605,465 Q604,469 596,470" fill="none" stroke="#8fcfb3" stroke-width="0.5"/><path d="M546.4,545.6 C520,500 470,476 428.7,475.3 C395,475 383,490 384.5,500 C386,508 396,509 398,503 C399,498 392,496 390,499" fill="none" stroke="#a5d8c1" stroke-width="0.7"/><path d="M470.8,531.3 C455,512 430,506 414.5,507.4 C395,508 384,511 384.5,519 C385,527 396,527 398,521 C399,516 393,514 391,518" fill="none" stroke="#a5d8c1" stroke-width="0.7"/><path d="M398,503 Q396,510 388,512" fill="none" stroke="#a5d8c1" stroke-width="0.6"/><polygon points="367.40,568.40 396.80,547.00 426.40,568.40 396.80,589.80" fill="#eef6f2" stroke="#3fb68b" stroke-width="1.1" /><polygon points="426.40,568.40 473.80,533.30 520.60,568.40 473.80,603.50" fill="#eef6f2" stroke="#3fb68b" stroke-width="1.1" /><polygon points="520.50,568.60 550.00,546.60 579.20,568.60 550.00,590.90" fill="#eef6f2" stroke="#3fb68b" stroke-width="1.1" /><circle cx="426.4" cy="568.5" r="2.8" fill="#3fb68b"/><circle cx="520.5" cy="568.5" r="2.8" fill="#3fb68b"/><circle cx="579.2" cy="568.5" r="2.8" fill="#3fb68b"/><circle cx="396.5" cy="559.3" r="2.2" fill="#3fb68b"/><circle cx="396.5" cy="578" r="2.2" fill="#3fb68b"/><circle cx="410" cy="567" r="1.1" fill="#3fb68b"/><circle cx="411.5" cy="569.5" r="1.1" fill="#3fb68b"/><circle cx="409.5" cy="570" r="1.1" fill="#3fb68b"/><circle cx="412.5" cy="568" r="1" fill="#3fb68b"/><path d="M400,561 L407,566 M400,576 L407,571" stroke="#8fcfb3" stroke-width="0.5"/><circle cx="495.2" cy="554.4" r="1.3" fill="#3fb68b"/><path d="M432,568.4 Q460,561.4 492,554.4" fill="none" stroke="#8fcfb3" stroke-width="0.5"/><circle cx="495.2" cy="568.4" r="1.3" fill="#3fb68b"/><path d="M432,568.4 Q460,568.4 492,568.4" fill="none" stroke="#8fcfb3" stroke-width="0.5"/><circle cx="495.2" cy="582.4" r="1.3" fill="#3fb68b"/><path d="M432,568.4 Q460,575.4 492,582.4" fill="none" stroke="#8fcfb3" stroke-width="0.5"/><circle cx="556" cy="557" r="1.2" fill="#3fb68b"/><circle cx="556" cy="562" r="1.2" fill="#3fb68b"/><circle cx="556" cy="567" r="1.2" fill="#3fb68b"/><circle cx="556" cy="572" r="1.2" fill="#3fb68b"/><circle cx="556" cy="577" r="1.2" fill="#3fb68b"/><circle cx="556" cy="582" r="1.2" fill="#3fb68b"/><circle cx="426.2" cy="463.4" r="2.7" fill="#d2ebdf"/><circle cx="426.2" cy="498.5" r="2.7" fill="#abd9c4"/><circle cx="426.2" cy="533.6" r="2.8" fill="#4fb98f"/><circle cx="396.5" cy="540" r="2.2" fill="#4fb98f"/><circle cx="396.5" cy="502.2" r="2.2" fill="#d8eee3"/><circle cx="396.5" cy="521.3" r="2.2" fill="#bde0cf"/><text x="426.2" y="457.5" font-size="5" fill="#333" font-weight="normal" text-anchor="middle" font-family='"Liberation Sans", sans-serif' textLength="15.6" lengthAdjust="spacingAndGlyphs" >THEME</text><text x="426.2" y="492.3" font-size="5" fill="#333" font-weight="normal" text-anchor="middle" font-family='"Liberation Sans", sans-serif' textLength="15.6" lengthAdjust="spacingAndGlyphs" >THEME</text><text x="426.2" y="527" font-size="5" fill="#333" font-weight="normal" text-anchor="middle" font-family='"Liberation Sans", sans-serif' textLength="15.6" lengthAdjust="spacingAndGlyphs" >THEME</text><text x="426.2" y="558.4" font-size="5" fill="#333" font-weight="normal" text-anchor="middle" font-family='"Liberation Sans", sans-serif' textLength="15.6" lengthAdjust="spacingAndGlyphs" >THEME</text><path d="M492.5,536 Q488,527 491,520 M495,536 Q492,528 494,520" fill="none" stroke="#8fcfb3" stroke-width="0.5"/><path d="M553.5,547 Q549,537 552,528 M556,547 Q553,537 555,528" fill="none" stroke="#8fcfb3" stroke-width="0.5"/><text x="495.2" y="523.5" font-size="4" fill="#8fcfb3" font-weight="normal" text-anchor="start" font-family='"Liberation Sans", sans-serif' textLength="19" lengthAdjust="spacingAndGlyphs" >PHASE 2</text><text x="556.3" y="523.5" font-size="4" fill="#8fcfb3" font-weight="normal" text-anchor="start" font-family='"Liberation Sans", sans-serif' textLength="19" lengthAdjust="spacingAndGlyphs" >PHASE 3</text><text x="338.9" y="570" font-size="5.2" fill="#222" font-weight="bold" text-anchor="start" font-family='"Liberation Sans", sans-serif' textLength="22.8" lengthAdjust="spacingAndGlyphs" >PHASE 1</text><text x="588.4" y="566" font-size="5.2" fill="#222" font-weight="bold" text-anchor="start" font-family='"Liberation Sans", sans-serif' textLength="29.3" lengthAdjust="spacingAndGlyphs" >PROOF OF</text><text x="590" y="573.6" font-size="5.2" fill="#222" font-weight="bold" text-anchor="start" font-family='"Liberation Sans", sans-serif' textLength="26.4" lengthAdjust="spacingAndGlyphs" >CONCEPT</text><text x="403" y="596.5" font-size="5.2" fill="#222" font-weight="normal" text-anchor="start" font-family='"Liberation Sans", sans-serif' textLength="25.7" lengthAdjust="spacingAndGlyphs" >ANALYSIS</text><text x="498.6" y="596.5" font-size="5.2" fill="#222" font-weight="normal" text-anchor="start" font-family='"Liberation Sans", sans-serif' textLength="15.7" lengthAdjust="spacingAndGlyphs" >IDEAS</text><text x="559.6" y="596.5" font-size="5.2" fill="#222" font-weight="normal" text-anchor="start" font-family='"Liberation Sans", sans-serif' textLength="40.6" lengthAdjust="spacingAndGlyphs" >PROTOTYPING</text><text x="368.8" y="617.5" font-size="5.4" fill="#222" font-weight="bold" text-anchor="start" font-family='"Liberation Sans", sans-serif' textLength="56.2" lengthAdjust="spacingAndGlyphs" >UNDERSTANDING</text><text x="456.7" y="617.5" font-size="5.4" fill="#222" font-weight="bold" text-anchor="start" font-family='"Liberation Sans", sans-serif' textLength="34.3" lengthAdjust="spacingAndGlyphs" >DREAMING</text><text x="524" y="617.5" font-size="5.4" fill="#222" font-weight="bold" text-anchor="start" font-family='"Liberation Sans", sans-serif' textLength="53.4" lengthAdjust="spacingAndGlyphs" >EXPERIMENTING</text></g><g clip-path="url(#cp5)"><defs><radialGradient id="yg" cx="0.68" cy="0.4" r="0.32"><stop offset="0" stop-color="#f8c300"/><stop offset="0.5" stop-color="#fac800"/><stop offset="1" stop-color="#fdd400" stop-opacity="0"/></radialGradient></defs><text x="678" y="137.6" font-size="15.5" fill="#555" font-weight="normal" text-anchor="start" font-family='"Liberation Sans", sans-serif' textLength="125" lengthAdjust="spacingAndGlyphs" >The Disciplines of</text><text x="678" y="155.8" font-size="15.5" fill="#222" font-weight="bold" text-anchor="start" font-family='"Liberation Sans", sans-serif' textLength="173.5" lengthAdjust="spacingAndGlyphs" >User Experience Design</text><circle cx="846.7" cy="407.8" r="152.8" fill="#c6b19d" /><circle cx="771" cy="217" r="18" fill="rgba(255,255,255,0.26)" stroke="rgba(255,255,255,0.75)" stroke-width="0.6" stroke-dasharray="0.9,1.1"/><circle cx="807" cy="197.5" r="18" fill="rgba(255,255,255,0.26)" stroke="rgba(255,255,255,0.75)" stroke-width="0.6" stroke-dasharray="0.9,1.1"/><circle cx="865.4" cy="190" r="18.5" fill="rgba(255,255,255,0.26)" stroke="rgba(255,255,255,0.75)" stroke-width="0.6" stroke-dasharray="0.9,1.1"/><circle cx="903.5" cy="177.6" r="18.5" fill="rgba(255,255,255,0.26)" stroke="rgba(255,255,255,0.75)" stroke-width="0.6" stroke-dasharray="0.9,1.1"/><circle cx="942" cy="184.4" r="18.5" fill="rgba(255,255,255,0.26)" stroke="rgba(255,255,255,0.75)" stroke-width="0.6" stroke-dasharray="0.9,1.1"/><circle cx="973" cy="211" r="18.5" fill="rgba(255,255,255,0.26)" stroke="rgba(255,255,255,0.75)" stroke-width="0.6" stroke-dasharray="0.9,1.1"/><circle cx="821.5" cy="264.5" r="56.5" fill="rgba(255,255,255,0.26)" stroke="rgba(255,255,255,0.75)" stroke-width="0.6" stroke-dasharray="0.9,1.1"/><circle cx="909" cy="257" r="61.5" fill="rgba(255,255,255,0.26)" stroke="rgba(255,255,255,0.75)" stroke-width="0.6" stroke-dasharray="0.9,1.1"/><circle cx="770" cy="330" r="78" fill="rgba(255,255,255,0.26)" stroke="rgba(255,255,255,0.75)" stroke-width="0.6" stroke-dasharray="0.9,1.1"/><circle cx="701.5" cy="415.5" r="33.5" fill="rgba(255,255,255,0.26)" stroke="rgba(255,255,255,0.75)" stroke-width="0.6" stroke-dasharray="0.9,1.1"/><circle cx="775" cy="528" r="74" fill="rgba(255,255,255,0.26)" stroke="rgba(255,255,255,0.75)" stroke-width="0.6" stroke-dasharray="0.9,1.1"/><circle cx="870.4" cy="536.8" r="19" fill="rgba(255,255,255,0.26)" stroke="rgba(255,255,255,0.75)" stroke-width="0.6" stroke-dasharray="0.9,1.1"/><circle cx="994.6" cy="354.2" r="29.3" fill="rgba(255,255,255,0.26)" stroke="rgba(255,255,255,0.75)" stroke-width="0.6" stroke-dasharray="0.9,1.1"/><circle cx="939.3" cy="401.7" r="46.3" fill="rgba(255,255,255,0.26)" stroke="rgba(255,255,255,0.75)" stroke-width="0.6" stroke-dasharray="0.9,1.1"/><circle cx="854.5" cy="429" r="93.5" fill="rgba(255,255,255,0.26)" stroke="rgba(255,255,255,0.75)" stroke-width="0.6" stroke-dasharray="0.9,1.1"/><circle cx="773" cy="432" r="78" fill="rgba(255,255,255,0.26)" stroke="rgba(255,255,255,0.75)" stroke-width="0.6" stroke-dasharray="0.9,1.1"/><circle cx="857.9" cy="352.6" r="91.7" fill="#fdd400" /><circle cx="857.9" cy="352.6" r="91.7" fill="url(#yg)"/><circle cx="805.9" cy="293.2" r="39" fill="none" stroke="rgba(255,255,255,0.75)" stroke-width="0.6" stroke-dasharray="0.9,1.1"/><circle cx="798.8" cy="374.8" r="40" fill="none" stroke="rgba(255,255,255,0.75)" stroke-width="0.6" stroke-dasharray="0.9,1.1"/><circle cx="854.5" cy="429" r="93.5" fill="none" stroke="rgba(255,255,255,0.75)" stroke-width="0.6" stroke-dasharray="0.9,1.1"/><circle cx="918.3" cy="401.6" r="42" fill="none" stroke="rgba(255,255,255,0.75)" stroke-width="0.6" stroke-dasharray="0.9,1.1"/><circle cx="909" cy="257" r="61.5" fill="none" stroke="rgba(255,255,255,0.75)" stroke-width="0.6" stroke-dasharray="0.9,1.1"/><circle cx="821.5" cy="264.5" r="56.5" fill="none" stroke="rgba(255,255,255,0.75)" stroke-width="0.6" stroke-dasharray="0.9,1.1"/><circle cx="770" cy="330" r="78" fill="none" stroke="rgba(255,255,255,0.75)" stroke-width="0.6" stroke-dasharray="0.9,1.1"/><circle cx="773" cy="432" r="78" fill="none" stroke="rgba(255,255,255,0.75)" stroke-width="0.6" stroke-dasharray="0.9,1.1"/><circle cx="939.3" cy="401.7" r="46.3" fill="none" stroke="rgba(255,255,255,0.75)" stroke-width="0.6" stroke-dasharray="0.9,1.1"/><circle cx="761.8" cy="361.5" r="42" fill="none" stroke="rgba(255,255,255,0.75)" stroke-width="0.6" stroke-dasharray="0.9,1.1"/><g transform="translate(771.9 218) rotate(-18)"><text x="0" y="-1.2" font-size="5.0" fill="#6b6058" font-weight="normal" text-anchor="middle" font-family='"Liberation Sans", sans-serif' letter-spacing="0.25">Mechanical</text><text x="0" y="4.8" font-size="5.0" fill="#6b6058" font-weight="normal" text-anchor="middle" font-family='"Liberation Sans", sans-serif' letter-spacing="0.25">Engineering</text></g><g transform="translate(807.5 197) rotate(-18)"><text x="0" y="-1.2" font-size="5.0" fill="#6b6058" font-weight="normal" text-anchor="middle" font-family='"Liberation Sans", sans-serif' letter-spacing="0.25">Electrical</text><text x="0" y="4.8" font-size="5.0" fill="#6b6058" font-weight="normal" text-anchor="middle" font-family='"Liberation Sans", sans-serif' letter-spacing="0.25">Engineering</text></g><g transform="translate(865.4 190.7) rotate(-18)"><text x="0" y="1.8" font-size="5.0" fill="#6b6058" font-weight="normal" text-anchor="middle" font-family='"Liberation Sans", sans-serif' letter-spacing="0.25">Philosophy</text></g><g transform="translate(902.7 177.6) rotate(-18)"><text x="0" y="-1.2" font-size="5.0" fill="#6b6058" font-weight="normal" text-anchor="middle" font-family='"Liberation Sans", sans-serif' letter-spacing="0.25">Cognitive</text><text x="0" y="4.8" font-size="5.0" fill="#6b6058" font-weight="normal" text-anchor="middle" font-family='"Liberation Sans", sans-serif' letter-spacing="0.25">Science</text></g><g transform="translate(942.3 185) rotate(-18)"><text x="0" y="1.8" font-size="5.0" fill="#6b6058" font-weight="normal" text-anchor="middle" font-family='"Liberation Sans", sans-serif' letter-spacing="0.25">Psychology</text></g><g transform="translate(974 210.5) rotate(-18)"><text x="0" y="1.8" font-size="5.0" fill="#6b6058" font-weight="normal" text-anchor="middle" font-family='"Liberation Sans", sans-serif' letter-spacing="0.25">Sociology</text></g><g transform="translate(819.4 237) rotate(-18)"><text x="0" y="-2.16" font-size="9.0" fill="#6b6058" font-weight="normal" text-anchor="middle" font-family='"Liberation Sans", sans-serif' letter-spacing="0.25">Industrial</text><text x="0" y="8.64" font-size="9.0" fill="#6b6058" font-weight="normal" text-anchor="middle" font-family='"Liberation Sans", sans-serif' letter-spacing="0.25">Design</text></g><g transform="translate(922.5 239) rotate(-18)"><text x="0" y="-2.16" font-size="9.0" fill="#6b6058" font-weight="normal" text-anchor="middle" font-family='"Liberation Sans", sans-serif' letter-spacing="0.25">Human Factors</text><text x="0" y="8.64" font-size="9.0" fill="#6b6058" font-weight="normal" text-anchor="middle" font-family='"Liberation Sans", sans-serif' letter-spacing="0.25">&amp; Ergonomics</text></g><g transform="translate(734.6 284.3) rotate(-18)"><text x="0" y="3.24" font-size="9.0" fill="#6b6058" font-weight="normal" text-anchor="middle" font-family='"Liberation Sans", sans-serif' letter-spacing="0.25">Architecture</text></g><g transform="translate(872 274.8) rotate(-18)"><text x="0" y="-4.2" font-size="5.0" fill="#6b6058" font-weight="normal" text-anchor="middle" font-family='"Liberation Sans", sans-serif' letter-spacing="0.25">Human</text><text x="0" y="1.8" font-size="5.0" fill="#6b6058" font-weight="normal" text-anchor="middle" font-family='"Liberation Sans", sans-serif' letter-spacing="0.25">Computer</text><text x="0" y="7.8" font-size="5.0" fill="#6b6058" font-weight="normal" text-anchor="middle" font-family='"Liberation Sans", sans-serif' letter-spacing="0.25">Interaction</text></g><g transform="translate(814.7 305.3) rotate(-18)"><text x="0" y="-1.2" font-size="5.0" fill="#6b6058" font-weight="normal" text-anchor="middle" font-family='"Liberation Sans", sans-serif' letter-spacing="0.25">Ubiquitous</text><text x="0" y="4.8" font-size="5.0" fill="#6b6058" font-weight="normal" text-anchor="middle" font-family='"Liberation Sans", sans-serif' letter-spacing="0.25">Computing</text></g><g transform="translate(856.3 308) rotate(-18)"><text x="0" y="-1.2" font-size="5.0" fill="#6b6058" font-weight="normal" text-anchor="middle" font-family='"Liberation Sans", sans-serif' letter-spacing="0.25">Interactive</text><text x="0" y="4.8" font-size="5.0" fill="#6b6058" font-weight="normal" text-anchor="middle" font-family='"Liberation Sans", sans-serif' letter-spacing="0.25">Controls</text></g><g transform="translate(904 295.4) rotate(-18)"><text x="0" y="-1.2" font-size="5.0" fill="#6b6058" font-weight="normal" text-anchor="middle" font-family='"Liberation Sans", sans-serif' letter-spacing="0.25">Usability</text><text x="0" y="4.8" font-size="5.0" fill="#6b6058" font-weight="normal" text-anchor="middle" font-family='"Liberation Sans", sans-serif' letter-spacing="0.25">Engineering</text></g><g transform="translate(748 328.3) rotate(-18)"><text x="0" y="-1.2" font-size="5.0" fill="#6b6058" font-weight="normal" text-anchor="middle" font-family='"Liberation Sans", sans-serif' letter-spacing="0.25">Spatial</text><text x="0" y="4.8" font-size="5.0" fill="#6b6058" font-weight="normal" text-anchor="middle" font-family='"Liberation Sans", sans-serif' letter-spacing="0.25">Experience</text></g><g transform="translate(794.8 339.8) rotate(-18)"><text x="0" y="-1.2" font-size="5.0" fill="#6b6058" font-weight="normal" text-anchor="middle" font-family='"Liberation Sans", sans-serif' letter-spacing="0.25">Interactive</text><text x="0" y="4.8" font-size="5.0" fill="#6b6058" font-weight="normal" text-anchor="middle" font-family='"Liberation Sans", sans-serif' letter-spacing="0.25">Environments</text></g><g transform="translate(911.8 331.9) rotate(-18)"><text x="0" y="-2.16" font-size="9.0" fill="#6b6058" font-weight="normal" text-anchor="middle" font-family='"Liberation Sans", sans-serif' letter-spacing="0.25">Interaction</text><text x="0" y="8.64" font-size="9.0" fill="#6b6058" font-weight="normal" text-anchor="middle" font-family='"Liberation Sans", sans-serif' letter-spacing="0.25">Design</text></g><g transform="translate(823.8 350.9) rotate(-18)"><text x="0" y="-1.2" font-size="5.0" fill="#6b6058" font-weight="normal" text-anchor="middle" font-family='"Liberation Sans", sans-serif' letter-spacing="0.25">Media</text><text x="0" y="4.8" font-size="5.0" fill="#6b6058" font-weight="normal" text-anchor="middle" font-family='"Liberation Sans", sans-serif' letter-spacing="0.25">Installations</text></g><g transform="translate(935.6 360.8) rotate(-18)"><text x="0" y="-1.2" font-size="5.0" fill="#6b6058" font-weight="normal" text-anchor="middle" font-family='"Liberation Sans", sans-serif' letter-spacing="0.25">Scenario</text><text x="0" y="4.8" font-size="5.0" fill="#6b6058" font-weight="normal" text-anchor="middle" font-family='"Liberation Sans", sans-serif' letter-spacing="0.25">Design</text></g><g transform="translate(977.2 352.9) rotate(-18)"><text x="0" y="-1.2" font-size="5.0" fill="#6b6058" font-weight="normal" text-anchor="middle" font-family='"Liberation Sans", sans-serif' letter-spacing="0.25">Sound</text><text x="0" y="4.8" font-size="5.0" fill="#6b6058" font-weight="normal" text-anchor="middle" font-family='"Liberation Sans", sans-serif' letter-spacing="0.25">Design</text></g><g transform="translate(1007 351) rotate(-18)"><text x="0" y="-1.2" font-size="5.0" fill="#6b6058" font-weight="normal" text-anchor="middle" font-family='"Liberation Sans", sans-serif' letter-spacing="0.25">Audio</text><text x="0" y="4.8" font-size="5.0" fill="#6b6058" font-weight="normal" text-anchor="middle" font-family='"Liberation Sans", sans-serif' letter-spacing="0.25">Engineering</text></g><g transform="translate(746.6 376) rotate(-18)"><text x="0" y="-1.2" font-size="5.0" fill="#6b6058" font-weight="normal" text-anchor="middle" font-family='"Liberation Sans", sans-serif' letter-spacing="0.25">Digital</text><text x="0" y="4.8" font-size="5.0" fill="#6b6058" font-weight="normal" text-anchor="middle" font-family='"Liberation Sans", sans-serif' letter-spacing="0.25">Signage</text></g><g transform="translate(797.8 377.9) rotate(-18)"><text x="0" y="-1.2" font-size="5.0" fill="#6b6058" font-weight="normal" text-anchor="middle" font-family='"Liberation Sans", sans-serif' letter-spacing="0.25">Guidance</text><text x="0" y="4.8" font-size="5.0" fill="#6b6058" font-weight="normal" text-anchor="middle" font-family='"Liberation Sans", sans-serif' letter-spacing="0.25">Systems</text></g><g transform="translate(864.7 387.7) rotate(-18)"><text x="0" y="-1.2" font-size="5.0" fill="#6b6058" font-weight="normal" text-anchor="middle" font-family='"Liberation Sans", sans-serif' letter-spacing="0.25">User Interface</text><text x="0" y="4.8" font-size="5.0" fill="#6b6058" font-weight="normal" text-anchor="middle" font-family='"Liberation Sans", sans-serif' letter-spacing="0.25">Design</text></g><g transform="translate(912 397.5) rotate(-18)"><text x="0" y="-1.2" font-size="5.0" fill="#6b6058" font-weight="normal" text-anchor="middle" font-family='"Liberation Sans", sans-serif' letter-spacing="0.25">User Interface</text><text x="0" y="4.8" font-size="5.0" fill="#6b6058" font-weight="normal" text-anchor="middle" font-family='"Liberation Sans", sans-serif' letter-spacing="0.25">Scenography</text></g><g transform="translate(963 399.5) rotate(-18)"><text x="0" y="-2.16" font-size="9.0" fill="#6b6058" font-weight="normal" text-anchor="middle" font-family='"Liberation Sans", sans-serif' letter-spacing="0.25">Motion</text><text x="0" y="8.64" font-size="9.0" fill="#6b6058" font-weight="normal" text-anchor="middle" font-family='"Liberation Sans", sans-serif' letter-spacing="0.25">Design</text></g><g transform="translate(681.7 414) rotate(-18)"><text x="0" y="1.8" font-size="5.0" fill="#6b6058" font-weight="normal" text-anchor="middle" font-family='"Liberation Sans", sans-serif' letter-spacing="0.25">Marketing</text></g><g transform="translate(714.4 418) rotate(-18)"><text x="0" y="-1.2" font-size="5.0" fill="#6b6058" font-weight="normal" text-anchor="middle" font-family='"Liberation Sans", sans-serif' letter-spacing="0.25">Contextual</text><text x="0" y="4.8" font-size="5.0" fill="#6b6058" font-weight="normal" text-anchor="middle" font-family='"Liberation Sans", sans-serif' letter-spacing="0.25">Requirements</text></g><g transform="translate(819.5 410) rotate(-18)"><text x="0" y="-1.2" font-size="5.0" fill="#6b6058" font-weight="normal" text-anchor="middle" font-family='"Liberation Sans", sans-serif' letter-spacing="0.25">Application</text><text x="0" y="4.8" font-size="5.0" fill="#6b6058" font-weight="normal" text-anchor="middle" font-family='"Liberation Sans", sans-serif' letter-spacing="0.25">Design</text></g><g transform="translate(786.8 438.9) rotate(-18)"><text x="0" y="-1.2" font-size="5.0" fill="#6b6058" font-weight="normal" text-anchor="middle" font-family='"Liberation Sans", sans-serif' letter-spacing="0.25">Navigation</text><text x="0" y="4.8" font-size="5.0" fill="#6b6058" font-weight="normal" text-anchor="middle" font-family='"Liberation Sans", sans-serif' letter-spacing="0.25">Design</text></g><g transform="translate(734.8 452.6) rotate(-18)"><text x="0" y="-2.16" font-size="9.0" fill="#6b6058" font-weight="normal" text-anchor="middle" font-family='"Liberation Sans", sans-serif' letter-spacing="0.25">Information</text><text x="0" y="8.64" font-size="9.0" fill="#6b6058" font-weight="normal" text-anchor="middle" font-family='"Liberation Sans", sans-serif' letter-spacing="0.25">Architecture</text></g><g transform="translate(878.5 467.6) rotate(-18)"><text x="0" y="-2.16" font-size="9.0" fill="#6b6058" font-weight="normal" text-anchor="middle" font-family='"Liberation Sans", sans-serif' letter-spacing="0.25">Communication</text><text x="0" y="8.64" font-size="9.0" fill="#6b6058" font-weight="normal" text-anchor="middle" font-family='"Liberation Sans", sans-serif' letter-spacing="0.25">Design</text></g><g transform="translate(750.6 475.5) rotate(-18)"><text x="0" y="-1.2" font-size="5.0" fill="#6b6058" font-weight="normal" text-anchor="middle" font-family='"Liberation Sans", sans-serif' letter-spacing="0.25">Functional</text><text x="0" y="4.8" font-size="5.0" fill="#6b6058" font-weight="normal" text-anchor="middle" font-family='"Liberation Sans", sans-serif' letter-spacing="0.25">Requirements</text></g><g transform="translate(797.8 476.3) rotate(-18)"><text x="0" y="-1.2" font-size="5.0" fill="#6b6058" font-weight="normal" text-anchor="middle" font-family='"Liberation Sans", sans-serif' letter-spacing="0.25">Data &amp; Info</text><text x="0" y="4.8" font-size="5.0" fill="#6b6058" font-weight="normal" text-anchor="middle" font-family='"Liberation Sans", sans-serif' letter-spacing="0.25">Visualization</text></g><g transform="translate(822.2 499.9) rotate(-18)"><text x="0" y="-1.2" font-size="5.0" fill="#6b6058" font-weight="normal" text-anchor="middle" font-family='"Liberation Sans", sans-serif' letter-spacing="0.25">Generative</text><text x="0" y="4.8" font-size="5.0" fill="#6b6058" font-weight="normal" text-anchor="middle" font-family='"Liberation Sans", sans-serif' letter-spacing="0.25">Design</text></g><g transform="translate(933.6 508.5) rotate(-18)"><text x="0" y="-2.16" font-size="9.0" fill="#6b6058" font-weight="normal" text-anchor="middle" font-family='"Liberation Sans", sans-serif' letter-spacing="0.25">User Experience</text><text x="0" y="8.64" font-size="9.0" fill="#6b6058" font-weight="normal" text-anchor="middle" font-family='"Liberation Sans", sans-serif' letter-spacing="0.25">Design</text></g><g transform="translate(795.8 527.4) rotate(-18)"><text x="0" y="-1.2" font-size="5.0" fill="#6b6058" font-weight="normal" text-anchor="middle" font-family='"Liberation Sans", sans-serif' letter-spacing="0.25">Software</text><text x="0" y="4.8" font-size="5.0" fill="#6b6058" font-weight="normal" text-anchor="middle" font-family='"Liberation Sans", sans-serif' letter-spacing="0.25">Development</text></g><g transform="translate(870.6 537.3) rotate(-18)"><text x="0" y="1.8" font-size="5.0" fill="#6b6058" font-weight="normal" text-anchor="middle" font-family='"Liberation Sans", sans-serif' letter-spacing="0.25">Writing</text></g><g transform="translate(752.5 563.6) rotate(-18)"><text x="0" y="-2.16" font-size="9.0" fill="#6b6058" font-weight="normal" text-anchor="middle" font-family='"Liberation Sans", sans-serif' letter-spacing="0.25">Computer</text><text x="0" y="8.64" font-size="9.0" fill="#6b6058" font-weight="normal" text-anchor="middle" font-family='"Liberation Sans", sans-serif' letter-spacing="0.25">Science</text></g><text x="671" y="620.5" font-size="6.2" fill="#222" font-weight="bold" text-anchor="start" font-family='"Liberation Sans", sans-serif' textLength="77.6" lengthAdjust="spacingAndGlyphs" >www.envis-precisely.com</text><text x="871" y="617.5" font-size="1.9" fill="#666" font-weight="normal" text-anchor="start" font-family='"Liberation Sans", sans-serif' textLength="99" lengthAdjust="spacingAndGlyphs" >This work is licensed under the Creative Commons Attribution-ShareAlike 3.0 Unported License.</text><text x="865" y="619.9" font-size="1.9" fill="#666" font-weight="normal" text-anchor="start" font-family='"Liberation Sans", sans-serif' textLength="105" lengthAdjust="spacingAndGlyphs" >This work is licensed under the Creative Commons Attribution-ShareAlike 3.0 Unported License.</text><text x="865" y="622.3" font-size="1.9" fill="#666" font-weight="normal" text-anchor="start" font-family='"Liberation Sans", sans-serif' textLength="105" lengthAdjust="spacingAndGlyphs" >This work is licensed under the Creative Commons Attribution-ShareAlike 3.0 Unported License.</text><circle cx="979.6" cy="619" r="3.3" fill="#fff" stroke="#222" stroke-width="0.9"/><circle cx="979.6" cy="619" r="1.4" fill="#222"/><circle cx="989" cy="619" r="3.3" fill="#fff" stroke="#222" stroke-width="0.9"/><circle cx="989" cy="619" r="1.4" fill="#222"/><circle cx="998.5" cy="619" r="3.3" fill="#fff" stroke="#222" stroke-width="0.9"/><circle cx="998.5" cy="619" r="1.4" fill="#222"/><circle cx="1008" cy="619" r="3.3" fill="#fff" stroke="#222" stroke-width="0.9"/><circle cx="1008" cy="619" r="1.4" fill="#222"/><circle cx="1018" cy="619" r="3.3" fill="#fff" stroke="#222" stroke-width="0.9"/><circle cx="1018" cy="619" r="1.4" fill="#222"/></g><g clip-path="url(#cp6)"><defs><clipPath id="vA"><circle cx="1102.2" cy="94.1" r="39.4"/></clipPath><clipPath id="vB"><circle cx="1150.8" cy="96.5" r="39.4"/></clipPath><clipPath id="vC"><circle cx="1124.8" cy="137.4" r="39.4"/></clipPath></defs><g clip-path="url(#vA)"><circle cx="1150.8" cy="96.5" r="39.4" fill="#f8ddb4"/></g><g clip-path="url(#vC)"><circle cx="1102.2" cy="94.1" r="39.4" fill="#fbf0c9"/><circle cx="1150.8" cy="96.5" r="39.4" fill="#fbf0c9"/></g><g clip-path="url(#vC)"><g clip-path="url(#vA)"><circle cx="1150.8" cy="96.5" r="39.4" fill="#f5a3ab"/></g></g><circle cx="1102.2" cy="94.1" r="39.4" fill="none" stroke="#777" stroke-width="0.5"/><circle cx="1150.8" cy="96.5" r="39.4" fill="none" stroke="#777" stroke-width="0.5"/><circle cx="1124.8" cy="137.4" r="39.4" fill="none" stroke="#777" stroke-width="0.5"/><text x="1085.5" y="86" font-size="7" fill="#2c4f93" font-weight="normal" text-anchor="middle" font-family='"Liberation Sans", sans-serif' textLength="29" lengthAdjust="spacingAndGlyphs" >DESEABLE</text><text x="1084.2" y="93.8" font-size="5.2" fill="#2c4f93" font-weight="normal" text-anchor="middle" font-family='"Liberation Sans", sans-serif' textLength="21" lengthAdjust="spacingAndGlyphs" >personas</text><text x="1163.3" y="87" font-size="7" fill="#2c4f93" font-weight="normal" text-anchor="middle" font-family='"Liberation Sans", sans-serif' textLength="21.5" lengthAdjust="spacingAndGlyphs" >VIABLE</text><text x="1164.5" y="94.8" font-size="5.2" fill="#2c4f93" font-weight="normal" text-anchor="middle" font-family='"Liberation Sans", sans-serif' textLength="18" lengthAdjust="spacingAndGlyphs" >negocio</text><text x="1120" y="148.5" font-size="7" fill="#2c4f93" font-weight="normal" text-anchor="middle" font-family='"Liberation Sans", sans-serif' textLength="26" lengthAdjust="spacingAndGlyphs" >FACTIBLE</text><text x="1123" y="157" font-size="5.2" fill="#2c4f93" font-weight="normal" text-anchor="middle" font-family='"Liberation Sans", sans-serif' textLength="28" lengthAdjust="spacingAndGlyphs" >tecnología</text><text x="1127" y="82.5" font-size="4.2" fill="#4a4a66" font-weight="normal" text-anchor="middle" font-family='"Liberation Sans", sans-serif' textLength="14" lengthAdjust="spacingAndGlyphs" >BRAND</text><text x="1127" y="89.0" font-size="4.2" fill="#4a4a66" font-weight="normal" text-anchor="middle" font-family='"Liberation Sans", sans-serif' textLength="10.5" lengthAdjust="spacingAndGlyphs" >DESIGN</text><text x="1126" y="104.5" font-size="4.2" fill="#4a4a66" font-weight="normal" text-anchor="middle" font-family='"Liberation Sans", sans-serif' textLength="19" lengthAdjust="spacingAndGlyphs" >SERVICE</text><text x="1126" y="111.0" font-size="4.2" fill="#4a4a66" font-weight="normal" text-anchor="middle" font-family='"Liberation Sans", sans-serif' textLength="14.25" lengthAdjust="spacingAndGlyphs" >DESIGN</text><text x="1103" y="120" font-size="4.2" fill="#4a4a66" font-weight="normal" text-anchor="middle" font-family='"Liberation Sans", sans-serif' textLength="23" lengthAdjust="spacingAndGlyphs" >FUNCTIONAL</text><text x="1103" y="126.5" font-size="4.2" fill="#4a4a66" font-weight="normal" text-anchor="middle" font-family='"Liberation Sans", sans-serif' textLength="17.25" lengthAdjust="spacingAndGlyphs" >DESIGN</text><text x="1145.5" y="122" font-size="4.2" fill="#4a4a66" font-weight="normal" text-anchor="middle" font-family='"Liberation Sans", sans-serif' textLength="17" lengthAdjust="spacingAndGlyphs" >TANGIBLE</text><text x="1145.5" y="128.5" font-size="4.2" fill="#4a4a66" font-weight="normal" text-anchor="middle" font-family='"Liberation Sans", sans-serif' textLength="12.75" lengthAdjust="spacingAndGlyphs" >DESIGN</text></g><g clip-path="url(#cp7)"><g transform="translate(1219 32) scale(0.26539)"><path d="M150,140 C200,100 260,95 300,88 C340,80 380,60 430,55 C470,70 520,140 560,170 C620,210 660,260 690,330 C700,400 700,470 690,520 C650,550 580,560 540,545 C500,520 450,480 420,440 C380,400 300,320 240,280 C190,240 150,210 150,140Z" fill="#dfecec"/><path d="M58,253 C70,215 100,195 108,195 C140,205 170,230 200,260 L396,419 C430,450 480,490 490,527 C495,570 480,592 476,592 C420,595 350,590 310,585 C260,540 230,500 216,484 C160,455 100,430 61,419 C55,360 55,300 58,253Z" fill="#e8e6a8"/><path d="M50,480 C90,440 160,470 210,500 C260,520 300,540 300,590 C290,620 200,625 120,605 C70,585 45,530 50,480Z" fill="#f8eceb" opacity="0.9"/><path d="M405,30 V148 M405,30 L600,160 L605,295 M345,100 L405,148 L605,295 L655,330" fill="none" stroke="#1f1f1f" stroke-width="5" stroke-linecap="round"/><path d="M295,205 L405,148 M605,295 L390,412 M610,305 L395,425" fill="none" stroke="#1f1f1f" stroke-width="5" stroke-linecap="round"/><path d="M150,212 L205,255 M400,425 L450,480" fill="none" stroke="#1f1f1f" stroke-width="5" stroke-dasharray="14,10"/><path d="M218,160 L385,242 L388,402 L218,275Z" fill="#d9686e" stroke="#1f1f1f" stroke-width="3"/><path d="M240,205 C250,215 260,190 280,215 C300,230 310,215 330,245 C345,260 360,250 372,280 L375,385 L240,280Z" fill="#8c8c8c"/><path d="M125,320 L218,272 L388,402 L315,440Z" fill="#e8e49f" stroke="#1f1f1f" stroke-width="5" stroke-linejoin="round"/><path d="M125,320 L315,440 L315,470 C250,470 170,440 150,400 C135,370 125,340 125,320Z" fill="#a9a9a9" stroke="#1f1f1f" stroke-width="4"/><path d="M315,440 L390,402 L390,418 L315,475" fill="#e8e49f" stroke="#1f1f1f" stroke-width="4"/><circle cx="152" cy="362" r="7" fill="#fff" stroke="#1f1f1f" stroke-width="3"/><path d="M144,384 V372 Q152,366 160,372 V384" fill="#fff" stroke="#1f1f1f" stroke-width="3"/><circle cx="180" cy="392" r="7" fill="#fff" stroke="#1f1f1f" stroke-width="3"/><path d="M172,414 V402 Q180,396 188,402 V414" fill="#fff" stroke="#1f1f1f" stroke-width="3"/><circle cx="218" cy="425" r="7" fill="#fff" stroke="#1f1f1f" stroke-width="3"/><path d="M210,447 V435 Q218,429 226,435 V447" fill="#fff" stroke="#1f1f1f" stroke-width="3"/><circle cx="255" cy="438" r="7" fill="#fff" stroke="#1f1f1f" stroke-width="3"/><path d="M247,460 V448 Q255,442 263,448 V460" fill="#fff" stroke="#1f1f1f" stroke-width="3"/><path d="M268,385 C275,355 290,335 305,340 C318,350 322,375 325,390 Z" fill="#2b3a8a" stroke="#1f1f1f" stroke-width="3"/><circle cx="303" cy="328" r="10" fill="#fff" stroke="#1f1f1f" stroke-width="3"/><path d="M300,315 q10,-10 18,2" stroke="#e06040" stroke-width="6" fill="none"/><path d="M238,325 L250,318 L262,325 L258,335 L242,335Z" fill="#f0a030"/><circle cx="376" cy="190" r="9" fill="#fff" stroke="#1f1f1f" stroke-width="3"/><path d="M366,235 V204 Q376,198 386,204 V235" fill="#6f6f6f" stroke="#1f1f1f" stroke-width="3"/><circle cx="440" cy="160" r="9" fill="#fff" stroke="#1f1f1f" stroke-width="3"/><path d="M430,205 V174 Q440,168 450,174 V205" fill="#6f6f6f" stroke="#1f1f1f" stroke-width="3"/><circle cx="487" cy="170" r="9" fill="#fff" stroke="#1f1f1f" stroke-width="3"/><path d="M477,215 V184 Q487,178 497,184 V215" fill="#6f6f6f" stroke="#1f1f1f" stroke-width="3"/><circle cx="410" cy="275" r="9" fill="#fff" stroke="#1f1f1f" stroke-width="3"/><path d="M400,320 V289 Q410,283 420,289 V320" fill="#6f6f6f" stroke="#1f1f1f" stroke-width="3"/><path d="M455,190 Q470,180 470,200 V245 H455Z" fill="#fff" stroke="#1f1f1f" stroke-width="3"/><path d="M398,300 L410,375 M420,300 L430,372 M402,320 H422 M405,340 H425 M407,358 H427" stroke="#1f1f1f" stroke-width="3"/><path d="M460,300 L530,278 L540,290 L470,315Z" fill="#fff" stroke="#1f1f1f" stroke-width="4"/><circle cx="478" cy="322" r="5" fill="#1f1f1f"/><circle cx="530" cy="298" r="5" fill="#1f1f1f"/><path d="M130,312 L155,318 L150,328 Z" fill="#1f1f1f"/><path d="M310,420 L325,420 L322,445 L312,445Z" fill="#1f1f1f"/><circle cx="175" cy="320" r="12" fill="#f5d0c0" opacity="0.8"/><circle cx="322" cy="408" r="12" fill="#f5d0c0" opacity="0.8"/><circle cx="95" cy="395" r="10" fill="#fff" stroke="#1f1f1f" stroke-width="3.5"/><path d="M73,435 Q77,407 95,407 Q113,407 117,435" fill="none" stroke="#1f1f1f" stroke-width="3.5"/><circle cx="118" cy="437" r="10" fill="#fff" stroke="#1f1f1f" stroke-width="3.5"/><path d="M96,477 Q100,449 118,449 Q136,449 140,477" fill="none" stroke="#1f1f1f" stroke-width="3.5"/><circle cx="143" cy="470" r="10" fill="#fff" stroke="#1f1f1f" stroke-width="3.5"/><path d="M121,510 Q125,482 143,482 Q161,482 165,510" fill="none" stroke="#1f1f1f" stroke-width="3.5"/><circle cx="80" cy="490" r="10" fill="#fff" stroke="#1f1f1f" stroke-width="3.5"/><path d="M58,530 Q62,502 80,502 Q98,502 102,530" fill="none" stroke="#1f1f1f" stroke-width="3.5"/><circle cx="170" cy="493" r="10" fill="#fff" stroke="#1f1f1f" stroke-width="3.5"/><path d="M148,533 Q152,505 170,505 Q188,505 192,533" fill="none" stroke="#1f1f1f" stroke-width="3.5"/><circle cx="205" cy="500" r="10" fill="#fff" stroke="#1f1f1f" stroke-width="3.5"/><path d="M183,540 Q187,512 205,512 Q223,512 227,540" fill="none" stroke="#1f1f1f" stroke-width="3.5"/><circle cx="240" cy="510" r="10" fill="#fff" stroke="#1f1f1f" stroke-width="3.5"/><path d="M218,550 Q222,522 240,522 Q258,522 262,550" fill="none" stroke="#1f1f1f" stroke-width="3.5"/><circle cx="275" cy="510" r="10" fill="#fff" stroke="#1f1f1f" stroke-width="3.5"/><path d="M253,550 Q257,522 275,522 Q293,522 297,550" fill="none" stroke="#1f1f1f" stroke-width="3.5"/><circle cx="102" cy="515" r="10" fill="#fff" stroke="#1f1f1f" stroke-width="3.5"/><path d="M80,555 Q84,527 102,527 Q120,527 124,555" fill="none" stroke="#1f1f1f" stroke-width="3.5"/><circle cx="130" cy="535" r="10" fill="#fff" stroke="#1f1f1f" stroke-width="3.5"/><path d="M108,575 Q112,547 130,547 Q148,547 152,575" fill="none" stroke="#1f1f1f" stroke-width="3.5"/><circle cx="160" cy="555" r="10" fill="#fff" stroke="#1f1f1f" stroke-width="3.5"/><path d="M138,595 Q142,567 160,567 Q178,567 182,595" fill="none" stroke="#1f1f1f" stroke-width="3.5"/><circle cx="200" cy="570" r="10" fill="#fff" stroke="#1f1f1f" stroke-width="3.5"/><path d="M178,610 Q182,582 200,582 Q218,582 222,610" fill="none" stroke="#1f1f1f" stroke-width="3.5"/><circle cx="235" cy="575" r="10" fill="#fff" stroke="#1f1f1f" stroke-width="3.5"/><path d="M213,615 Q217,587 235,587 Q253,587 257,615" fill="none" stroke="#1f1f1f" stroke-width="3.5"/><circle cx="280" cy="580" r="10" fill="#fff" stroke="#1f1f1f" stroke-width="3.5"/><path d="M258,620 Q262,592 280,592 Q298,592 302,620" fill="none" stroke="#1f1f1f" stroke-width="3.5"/><text x="505" y="442" font-size="22" fill="#1f1f1f" letter-spacing="3" font-family='"Liberation Sans", sans-serif' textLength="163" lengthAdjust="spacingAndGlyphs">BACKSTAGE</text><text x="333" y="532" font-size="22" fill="#1f1f1f" letter-spacing="3" font-family='"Liberation Sans", sans-serif' textLength="185" lengthAdjust="spacingAndGlyphs">FRONTSTAGE</text><text x="585" y="637" font-size="15" fill="#bbb" font-family='"Liberation Sans", sans-serif' textLength="118" lengthAdjust="spacingAndGlyphs">NNGROUP.COM</text><text x="712" y="639" font-size="20" font-weight="bold" fill="#111" font-family='"Liberation Sans", sans-serif' textLength="42" lengthAdjust="spacingAndGlyphs">N<tspan fill="#d0122a">N</tspan><tspan font-weight="normal">/g</tspan></text></g></g><g clip-path="url(#cp8)"><path d="M1162.4,315.7 L1154.9,236.2" stroke="#4d5566" stroke-width="0.9"/><circle cx="1154.9" cy="236.2" r="1.4" fill="#4d5566"/><text x="1153" y="230" font-size="6.2" fill="#6a6a6a" font-weight="normal" text-anchor="middle" font-family='"Liberation Serif", serif' textLength="7" lengthAdjust="spacingAndGlyphs" >UX</text><path d="M1162.4,315.7 L1209.6,243" stroke="#4d5566" stroke-width="0.9"/><circle cx="1209.6" cy="243" r="1.4" fill="#4d5566"/><text x="1215.6" y="244.5" font-size="6.2" fill="#6a6a6a" font-weight="normal" text-anchor="start" font-family='"Liberation Serif", serif' textLength="51.5" lengthAdjust="spacingAndGlyphs" >Business Strategy</text><path d="M1162.4,315.7 L1092,277.7" stroke="#4d5566" stroke-width="0.9"/><circle cx="1092" cy="277.7" r="1.4" fill="#4d5566"/><text x="1081.5" y="277.5" font-size="6.2" fill="#6a6a6a" font-weight="normal" text-anchor="middle" font-family='"Liberation Serif", serif' textLength="7.5" lengthAdjust="spacingAndGlyphs" >CX</text><path d="M1162.4,315.7 L1240.4,296.5" stroke="#4d5566" stroke-width="0.9"/><circle cx="1240.4" cy="296.5" r="1.4" fill="#4d5566"/><text x="1244.7" y="299" font-size="6.2" fill="#6a6a6a" font-weight="normal" text-anchor="start" font-family='"Liberation Serif", serif' textLength="34.5" lengthAdjust="spacingAndGlyphs" >Architecture</text><path d="M1162.4,315.7 L1085.7,334.2" stroke="#4d5566" stroke-width="0.9"/><circle cx="1085.7" cy="334.2" r="1.4" fill="#4d5566"/><text x="1045" y="341.2" font-size="6.2" fill="#6a6a6a" font-weight="normal" text-anchor="start" font-family='"Liberation Serif", serif' textLength="37.2" lengthAdjust="spacingAndGlyphs" >Data Science</text><path d="M1162.4,315.7 L1233.7,352.6" stroke="#4d5566" stroke-width="0.9"/><circle cx="1233.7" cy="352.6" r="1.4" fill="#4d5566"/><text x="1238.2" y="356.5" font-size="6.2" fill="#6a6a6a" font-weight="normal" text-anchor="start" font-family='"Liberation Serif", serif' textLength="39" lengthAdjust="spacingAndGlyphs" >Anthropology</text><path d="M1162.4,315.7 L1116.2,387.8" stroke="#4d5566" stroke-width="0.9"/><circle cx="1116.2" cy="387.8" r="1.4" fill="#4d5566"/><text x="1081.5" y="391" font-size="6.2" fill="#6a6a6a" font-weight="normal" text-anchor="start" font-family='"Liberation Serif", serif' textLength="29" lengthAdjust="spacingAndGlyphs" >Marketing</text><path d="M1162.4,315.7 L1170.9,394.5" stroke="#4d5566" stroke-width="0.9"/><circle cx="1170.9" cy="394.5" r="1.4" fill="#4d5566"/><text x="1161.3" y="402.5" font-size="6.2" fill="#6a6a6a" font-weight="normal" text-anchor="start" font-family='"Liberation Serif", serif' textLength="22.5" lengthAdjust="spacingAndGlyphs" >Product</text><circle cx="1162.4" cy="315.7" r="17.7" fill="#e8685b"/><text x="1162.4" y="320.3" font-size="13" fill="#fff" font-weight="bold" text-anchor="middle" font-family='"Liberation Serif", serif' textLength="20.5" lengthAdjust="spacingAndGlyphs" >SD</text></g><g clip-path="url(#cp9)"><rect x="1378" y="220" width="137.5" height="17.69999999999999" fill="#f47b80" /><text x="1332.6" y="239.4" font-size="21" fill="#111" font-weight="bold" text-anchor="start" font-family='"Liberation Sans", sans-serif' textLength="211.4" lengthAdjust="spacingAndGlyphs" >Four core activities of</text><text x="1332.6" y="259" font-size="21" fill="#111" font-weight="bold" text-anchor="start" font-family='"Liberation Sans", sans-serif' textLength="140.5" lengthAdjust="spacingAndGlyphs" >service design</text><defs><clipPath id="fcR"><circle cx="1439.6" cy="317.4" r="33.7"/></clipPath><clipPath id="fcI"><circle cx="1483" cy="317.4" r="33.7"/></clipPath><clipPath id="fcM"><circle cx="1439.6" cy="361.6" r="33.7"/></clipPath><clipPath id="fcP"><circle cx="1483" cy="361.6" r="33.7"/></clipPath></defs><circle cx="1439.6" cy="317.4" r="33.7" fill="none" stroke="#26261c" stroke-width="1.8"/><circle cx="1483" cy="317.4" r="33.7" fill="none" stroke="#26261c" stroke-width="1.8"/><circle cx="1439.6" cy="361.6" r="33.7" fill="none" stroke="#26261c" stroke-width="1.8"/><circle cx="1483" cy="361.6" r="33.7" fill="none" stroke="#26261c" stroke-width="1.8"/><circle cx="1439.6" cy="317.4" r="33.7" fill="#fce46c" /><circle cx="1483" cy="317.4" r="33.7" fill="#e9d55a" /><g clip-path="url(#fcR)"><circle cx="1483" cy="317.4" r="33.7" fill="#e2ce50" /></g><circle cx="1483" cy="361.6" r="33.7" fill="#d9c43c" /><g clip-path="url(#fcI)"><circle cx="1483" cy="361.6" r="33.7" fill="#d3bd36" /></g><circle cx="1439.6" cy="361.6" r="33.7" fill="#f9dd2e" /><g clip-path="url(#fcR)"><circle cx="1439.6" cy="361.6" r="33.7" fill="#f6da30" /></g><g clip-path="url(#fcP)"><circle cx="1439.6" cy="361.6" r="33.7" fill="#f4d62c" /></g><circle cx="1439.6" cy="317.4" r="33.7" fill="none" stroke="rgba(70,60,0,0.22)" stroke-width="0.7"/><circle cx="1483" cy="317.4" r="33.7" fill="none" stroke="rgba(70,60,0,0.22)" stroke-width="0.7"/><circle cx="1439.6" cy="361.6" r="33.7" fill="none" stroke="rgba(70,60,0,0.22)" stroke-width="0.7"/><circle cx="1483" cy="361.6" r="33.7" fill="none" stroke="rgba(70,60,0,0.22)" stroke-width="0.7"/><path id="tR" d="M1414.84,313.92 A25,25 0 0 1 1448.15,293.91" fill="none"/><path id="tI" d="M1485.61,292.54 A25,25 0 0 1 1507.62,321.74" fill="none"/><path id="tM" d="M1444.90,386.54 A25.5,25.5 0 0 1 1416.49,350.82" fill="none"/><path id="tP" d="M1507.94,356.30 A25.5,25.5 0 0 1 1474.28,385.56" fill="none"/><text font-size="5.6" font-weight="bold" fill="#222" letter-spacing="0.6"><textPath href="#tR" startOffset="1">RESEARCH</textPath></text><text font-size="5.6" font-weight="bold" fill="#222" letter-spacing="0.6"><textPath href="#tI" startOffset="1">IDEATION</textPath></text><text font-size="5.6" font-weight="bold" fill="#222" letter-spacing="0.5"><textPath href="#tM" startOffset="1">IMPLEMENTATION</textPath></text><text font-size="5.6" font-weight="bold" fill="#222" letter-spacing="0.6"><textPath href="#tP" startOffset="1">PROTOTYPING</textPath></text><rect x="1361.1999999999998" y="267.90000000000003" width="53.20000000000009" height="12.99999999999999" fill="#fff" stroke="#e8dc98" stroke-width="1.1"/><text x="1387.8" y="274.2" font-size="3.9" fill="#1a1a1a" font-weight="bold" text-anchor="middle" font-family='"Liberation Sans", sans-serif' textLength="46.800000000000004" lengthAdjust="spacingAndGlyphs" >DATA VISUALIZATION</text><text x="1387.8" y="278.29999999999995" font-size="3.9" fill="#1a1a1a" font-weight="bold" text-anchor="middle" font-family='"Liberation Sans", sans-serif' textLength="31.200000000000003" lengthAdjust="spacingAndGlyphs" >AND ANALYSIS</text><rect x="1341.0" y="302.20000000000005" width="52.399999999999906" height="12.199999999999978" fill="#fff" stroke="#e8dc98" stroke-width="1.1"/><text x="1367.2" y="308.1" font-size="3.9" fill="#1a1a1a" font-weight="bold" text-anchor="middle" font-family='"Liberation Sans", sans-serif' textLength="10.4" lengthAdjust="spacingAndGlyphs" >DATA</text><text x="1367.2" y="312.2" font-size="3.9" fill="#1a1a1a" font-weight="bold" text-anchor="middle" font-family='"Liberation Sans", sans-serif' textLength="26.0" lengthAdjust="spacingAndGlyphs" >COLLECTION</text><rect x="1341.0" y="347.6" width="52.399999999999906" height="12.3" fill="#fff" stroke="#e8dc98" stroke-width="1.1"/><text x="1367.2" y="353.55" font-size="3.9" fill="#1a1a1a" font-weight="bold" text-anchor="middle" font-family='"Liberation Sans", sans-serif' textLength="15.600000000000001" lengthAdjust="spacingAndGlyphs" >CHANGE</text><text x="1367.2" y="357.65" font-size="3.9" fill="#1a1a1a" font-weight="bold" text-anchor="middle" font-family='"Liberation Sans", sans-serif' textLength="26.0" lengthAdjust="spacingAndGlyphs" >MANAGEMENT</text><rect x="1339.3" y="368.20000000000005" width="52.399999999999906" height="12.699999999999978" fill="#fff" stroke="#e8dc98" stroke-width="1.1"/><text x="1365.5" y="374.35" font-size="3.9" fill="#1a1a1a" font-weight="bold" text-anchor="middle" font-family='"Liberation Sans", sans-serif' textLength="20.8" lengthAdjust="spacingAndGlyphs" >SOFTWARE</text><text x="1365.5" y="378.45" font-size="3.9" fill="#1a1a1a" font-weight="bold" text-anchor="middle" font-family='"Liberation Sans", sans-serif' textLength="28.6" lengthAdjust="spacingAndGlyphs" >DEVELOPMENT</text><rect x="1348.6" y="389.20000000000005" width="57.3" height="12.599999999999955" fill="#fff" stroke="#e8dc98" stroke-width="1.1"/><text x="1377.25" y="395.3" font-size="3.9" fill="#1a1a1a" font-weight="bold" text-anchor="middle" font-family='"Liberation Sans", sans-serif' textLength="39.0" lengthAdjust="spacingAndGlyphs" >SERVICE DESIGN/</text><text x="1377.25" y="399.4" font-size="3.9" fill="#1a1a1a" font-weight="bold" text-anchor="middle" font-family='"Liberation Sans", sans-serif' textLength="46.800000000000004" lengthAdjust="spacingAndGlyphs" >PRODUCT MANAGEMENT</text><rect x="1379.3999999999999" y="410.6" width="52.8" height="12.199999999999978" fill="#fff" stroke="#e8dc98" stroke-width="1.1"/><text x="1405.8" y="416.5" font-size="3.9" fill="#1a1a1a" font-weight="bold" text-anchor="middle" font-family='"Liberation Sans", sans-serif' textLength="41.6" lengthAdjust="spacingAndGlyphs" >SERVICE DESIGN /</text><text x="1405.8" y="420.59999999999997" font-size="3.9" fill="#1a1a1a" font-weight="bold" text-anchor="middle" font-family='"Liberation Sans", sans-serif' textLength="31.200000000000003" lengthAdjust="spacingAndGlyphs" >ARCHITECTURE</text><rect x="1490.1999999999998" y="257.1" width="52.20000000000009" height="12.3" fill="#fff" stroke="#e8dc98" stroke-width="1.1"/><text x="1516.3" y="263.05" font-size="3.9" fill="#1a1a1a" font-weight="bold" text-anchor="middle" font-family='"Liberation Sans", sans-serif' textLength="31.200000000000003" lengthAdjust="spacingAndGlyphs" >PRE-IDEATION</text><text x="1516.3" y="267.15" font-size="3.9" fill="#1a1a1a" font-weight="bold" text-anchor="middle" font-family='"Liberation Sans", sans-serif' textLength="18.2" lengthAdjust="spacingAndGlyphs" >METHODS</text><rect x="1511.6" y="272.40000000000003" width="52.8" height="12.600000000000012" fill="#fff" stroke="#e8dc98" stroke-width="1.1"/><text x="1538.0" y="278.50000000000006" font-size="3.9" fill="#1a1a1a" font-weight="bold" text-anchor="middle" font-family='"Liberation Sans", sans-serif' textLength="26.0" lengthAdjust="spacingAndGlyphs" >GENERATING</text><text x="1538.0" y="282.6" font-size="3.9" fill="#1a1a1a" font-weight="bold" text-anchor="middle" font-family='"Liberation Sans", sans-serif' textLength="26.0" lengthAdjust="spacingAndGlyphs" >MANY IDEAS</text><rect x="1526.1" y="288.3" width="52.70000000000009" height="12.700000000000035" fill="#fff" stroke="#e8dc98" stroke-width="1.1"/><text x="1552.45" y="294.45" font-size="3.9" fill="#1a1a1a" font-weight="bold" text-anchor="middle" font-family='"Liberation Sans", sans-serif' textLength="36.4" lengthAdjust="spacingAndGlyphs" >ADDING DEPTH /</text><text x="1552.45" y="298.54999999999995" font-size="3.9" fill="#1a1a1a" font-weight="bold" text-anchor="middle" font-family='"Liberation Sans", sans-serif' textLength="46.800000000000004" lengthAdjust="spacingAndGlyphs" >DIVERSIFYING IDEAS</text><rect x="1532.1" y="304.3" width="56.3" height="12.700000000000035" fill="#fff" stroke="#e8dc98" stroke-width="1.1"/><text x="1560.25" y="310.45" font-size="3.9" fill="#1a1a1a" font-weight="bold" text-anchor="middle" font-family='"Liberation Sans", sans-serif' textLength="39.0" lengthAdjust="spacingAndGlyphs" >UNDERSTANDING /</text><text x="1560.25" y="314.54999999999995" font-size="3.9" fill="#1a1a1a" font-weight="bold" text-anchor="middle" font-family='"Liberation Sans", sans-serif' textLength="51.5" lengthAdjust="spacingAndGlyphs" >CLUSTERING / RANKING</text><rect x="1531.0" y="319.90000000000003" width="52.399999999999906" height="12.99999999999999" fill="#fff" stroke="#e8dc98" stroke-width="1.1"/><text x="1557.2" y="326.2" font-size="3.9" fill="#1a1a1a" font-weight="bold" text-anchor="middle" font-family='"Liberation Sans", sans-serif' textLength="20.8" lengthAdjust="spacingAndGlyphs" >REDUCING</text><text x="1557.2" y="330.29999999999995" font-size="3.9" fill="#1a1a1a" font-weight="bold" text-anchor="middle" font-family='"Liberation Sans", sans-serif' textLength="18.2" lengthAdjust="spacingAndGlyphs" >OPTIONS</text><rect x="1529.6" y="347.6" width="53.50000000000004" height="12.3" fill="#fff" stroke="#d3c47e" stroke-width="1.1"/><text x="1556.35" y="353.55" font-size="3.9" fill="#1a1a1a" font-weight="bold" text-anchor="middle" font-family='"Liberation Sans", sans-serif' textLength="44.2" lengthAdjust="spacingAndGlyphs" >SERVICE PROCESSES</text><text x="1556.35" y="357.65" font-size="3.9" fill="#1a1a1a" font-weight="bold" text-anchor="middle" font-family='"Liberation Sans", sans-serif' textLength="39.0" lengthAdjust="spacingAndGlyphs" >AND EXPERIENCES</text><rect x="1531.3999999999999" y="362.90000000000003" width="53.00000000000004" height="12.699999999999978" fill="#fff" stroke="#d3c47e" stroke-width="1.1"/><text x="1557.9" y="369.05" font-size="3.9" fill="#1a1a1a" font-weight="bold" text-anchor="middle" font-family='"Liberation Sans", sans-serif' textLength="28.6" lengthAdjust="spacingAndGlyphs" >OBJECTS AND</text><text x="1557.9" y="373.15" font-size="3.9" fill="#1a1a1a" font-weight="bold" text-anchor="middle" font-family='"Liberation Sans", sans-serif' textLength="31.200000000000003" lengthAdjust="spacingAndGlyphs" >ENVIRONMENTS</text><rect x="1527.1" y="378.90000000000003" width="52.8" height="12.49999999999999" fill="#fff" stroke="#d3c47e" stroke-width="1.1"/><text x="1553.5" y="384.95" font-size="3.9" fill="#1a1a1a" font-weight="bold" text-anchor="middle" font-family='"Liberation Sans", sans-serif' textLength="28.6" lengthAdjust="spacingAndGlyphs" >PROTOTYPING</text><text x="1553.5" y="389.04999999999995" font-size="3.9" fill="#1a1a1a" font-weight="bold" text-anchor="middle" font-family='"Liberation Sans", sans-serif' textLength="39.0" lengthAdjust="spacingAndGlyphs" >FOR THE DIGITAL</text><rect x="1514.6" y="394.6" width="52.8" height="12.600000000000012" fill="#fff" stroke="#d3c47e" stroke-width="1.1"/><text x="1541.0" y="400.7" font-size="3.9" fill="#1a1a1a" font-weight="bold" text-anchor="middle" font-family='"Liberation Sans", sans-serif' textLength="36.4" lengthAdjust="spacingAndGlyphs" >ECOSYSTEMS AND</text><text x="1541.0" y="404.79999999999995" font-size="3.9" fill="#1a1a1a" font-weight="bold" text-anchor="middle" font-family='"Liberation Sans", sans-serif' textLength="36.4" lengthAdjust="spacingAndGlyphs" >BUSINESS VALUE</text><rect x="1490.1999999999998" y="410.6" width="52.20000000000009" height="12.199999999999978" fill="#fff" stroke="#d3c47e" stroke-width="1.1"/><text x="1516.3" y="416.5" font-size="3.9" fill="#1a1a1a" font-weight="bold" text-anchor="middle" font-family='"Liberation Sans", sans-serif' textLength="18.2" lengthAdjust="spacingAndGlyphs" >FURTHER</text><text x="1516.3" y="420.59999999999997" font-size="3.9" fill="#1a1a1a" font-weight="bold" text-anchor="middle" font-family='"Liberation Sans", sans-serif' textLength="18.2" lengthAdjust="spacingAndGlyphs" >METHODS</text><g transform="translate(1319 427) rotate(-90)"><text x="0" y="0" font-size="5.2" fill="#333" font-weight="normal" text-anchor="start" font-family='"Liberation Sans", sans-serif' textLength="73" lengthAdjust="spacingAndGlyphs" >The Power of great customer</text></g></g><g clip-path="url(#cp10)"><defs><linearGradient id="gE" x1="0" x2="1"><stop offset="0" stop-color="#35a3bb"/><stop offset="1" stop-color="#6a9ea8"/></linearGradient><linearGradient id="gD" x1="0" x2="1"><stop offset="0" stop-color="#6c9da6"/><stop offset="1" stop-color="#9a9394"/></linearGradient><linearGradient id="gI" x1="0" x2="1"><stop offset="0" stop-color="#958d8e"/><stop offset="1" stop-color="#ac7b7c"/></linearGradient><linearGradient id="gP" x1="0" x2="1"><stop offset="0" stop-color="#b07b7c"/><stop offset="1" stop-color="#c46a6d"/></linearGradient><linearGradient id="gT" x1="0" x2="1"><stop offset="0" stop-color="#c4686b"/><stop offset="1" stop-color="#da4556"/></linearGradient></defs><text x="1219" y="442" font-size="5.6" fill="#59b3c7" font-weight="normal" text-anchor="start" font-family='"Liberation Sans", sans-serif' textLength="74" lengthAdjust="spacingAndGlyphs" >PROBLEMDEFINITION</text><path d="M1239,450 H1273" stroke="#59b3c7" stroke-width="0.8"/><text x="1180" y="466.7" font-size="13" fill="#111" font-weight="bold" text-anchor="start" font-family='"Liberation Serif", serif' textLength="152" lengthAdjust="spacingAndGlyphs" >„Das Richtige entwickeln“</text><text x="1488.5" y="442" font-size="5.6" fill="#e05a72" font-weight="normal" text-anchor="start" font-family='"Liberation Sans", sans-serif' textLength="64" lengthAdjust="spacingAndGlyphs" >LÖSUNGSFINDUNG</text><path d="M1504,450 H1537.8" stroke="#e05a72" stroke-width="0.8"/><text x="1430.4" y="465.8" font-size="13" fill="#111" font-weight="bold" text-anchor="start" font-family='"Liberation Serif", serif' textLength="177.6" lengthAdjust="spacingAndGlyphs" >„Die Dinge richtig entwickeln“</text><polygon points="1095.00,565.80 1124.00,545.00 1153.00,565.80 1124.00,586.60" fill="#35a6c0" stroke="none" stroke-width="1" /><polygon points="1166.30,565.50 1255.00,510.60 1255.00,621.00" fill="url(#gE)" stroke="none" stroke-width="1" /><polygon points="1258.00,510.60 1348.00,565.50 1258.00,621.00" fill="url(#gD)" stroke="none" stroke-width="1" /><polygon points="1361.00,565.50 1454.80,509.80 1454.80,621.00" fill="url(#gI)" stroke="none" stroke-width="1" /><polygon points="1457.70,509.80 1550.00,536.00 1550.00,595.70 1457.70,621.00" fill="url(#gP)" stroke="none" stroke-width="1" /><polygon points="1553.00,537.60 1645.40,565.50 1553.00,594.80" fill="url(#gT)" stroke="none" stroke-width="1" /><polygon points="1660.00,565.80 1693.00,545.60 1726.00,565.80 1693.00,586.00" fill="#d7344b" stroke="none" stroke-width="1" /><circle cx="1088" cy="565.5" r="6.1" fill="#fff" stroke="#a39b9b" stroke-width="1.5"/><circle cx="1160.5" cy="565.5" r="6.1" fill="#fff" stroke="#a39b9b" stroke-width="1.5"/><circle cx="1354.5" cy="565.5" r="6.1" fill="#fff" stroke="#a39b9b" stroke-width="1.5"/><circle cx="1653.3" cy="565.5" r="6.1" fill="#fff" stroke="#a39b9b" stroke-width="1.5"/><path d="M1160.5,544 V559 M1354.5,544 V559 M1653.3,544 V559" stroke="#a39b9b" stroke-width="0.9"/><text x="1091" y="544.5" font-size="5.8" fill="#a39b9b" font-weight="bold" text-anchor="end" font-family='"Liberation Sans", sans-serif' textLength="20" lengthAdjust="spacingAndGlyphs" >Trend</text><text x="1084.2" y="554.8" font-size="5.8" fill="#a39b9b" font-weight="bold" text-anchor="end" font-family='"Liberation Sans", sans-serif' textLength="40" lengthAdjust="spacingAndGlyphs" >Technologie</text><text x="1073.5" y="568" font-size="5.8" fill="#a39b9b" font-weight="bold" text-anchor="end" font-family='"Liberation Sans", sans-serif' textLength="42" lengthAdjust="spacingAndGlyphs" >Wettbewerb</text><text x="1083.6" y="580" font-size="5.8" fill="#a39b9b" font-weight="bold" text-anchor="end" font-family='"Liberation Sans", sans-serif' textLength="36" lengthAdjust="spacingAndGlyphs" >Wachstum</text><text x="1090" y="591" font-size="5.8" fill="#a39b9b" font-weight="bold" text-anchor="end" font-family='"Liberation Sans", sans-serif' textLength="21" lengthAdjust="spacingAndGlyphs" >Marke</text><text x="1160" y="524.6" font-size="6" fill="#a39b9b" font-weight="bold" text-anchor="middle" font-family='"Liberation Sans", sans-serif' textLength="38" lengthAdjust="spacingAndGlyphs" >Eintauchen</text><text x="1160" y="531.8000000000001" font-size="6" fill="#a39b9b" font-weight="bold" text-anchor="middle" font-family='"Liberation Sans", sans-serif' textLength="34" lengthAdjust="spacingAndGlyphs" >in Nutzer</text><text x="1160" y="539.0" font-size="6" fill="#a39b9b" font-weight="bold" text-anchor="middle" font-family='"Liberation Sans", sans-serif' textLength="37" lengthAdjust="spacingAndGlyphs" >und Thema</text><text x="1354" y="524.6" font-size="6" fill="#a39b9b" font-weight="bold" text-anchor="middle" font-family='"Liberation Sans", sans-serif' textLength="25" lengthAdjust="spacingAndGlyphs" >Kreative</text><text x="1354" y="531.8000000000001" font-size="6" fill="#a39b9b" font-weight="bold" text-anchor="middle" font-family='"Liberation Sans", sans-serif' textLength="26" lengthAdjust="spacingAndGlyphs" >Heraus-</text><text x="1354" y="539.0" font-size="6" fill="#a39b9b" font-weight="bold" text-anchor="middle" font-family='"Liberation Sans", sans-serif' textLength="34" lengthAdjust="spacingAndGlyphs" >forderung</text><text x="1653.3" y="524.6" font-size="6" fill="#a39b9b" font-weight="bold" text-anchor="middle" font-family='"Liberation Sans", sans-serif' textLength="39" lengthAdjust="spacingAndGlyphs" >Validierter,</text><text x="1653.3" y="531.8000000000001" font-size="6" fill="#a39b9b" font-weight="bold" text-anchor="middle" font-family='"Liberation Sans", sans-serif' textLength="43" lengthAdjust="spacingAndGlyphs" >umsetzungs-</text><text x="1653.3" y="539.0" font-size="6" fill="#a39b9b" font-weight="bold" text-anchor="middle" font-family='"Liberation Sans", sans-serif' textLength="45" lengthAdjust="spacingAndGlyphs" >reifer Service</text><text x="1124.5" y="564.5" font-size="6.8" fill="#fff" font-weight="bold" text-anchor="middle" font-family='"Liberation Sans", sans-serif' textLength="30" lengthAdjust="spacingAndGlyphs" >FRAGE-</text><text x="1124.5" y="571.5" font-size="6.8" fill="#fff" font-weight="bold" text-anchor="middle" font-family='"Liberation Sans", sans-serif' textLength="39.5" lengthAdjust="spacingAndGlyphs" >STELLUNG</text><text x="1690.5" y="565.5" font-size="6.5" fill="#fff" font-weight="bold" text-anchor="middle" font-family='"Liberation Sans", sans-serif' textLength="46" lengthAdjust="spacingAndGlyphs" >IMPLEMEN-</text><text x="1690.5" y="573" font-size="6.5" fill="#fff" font-weight="bold" text-anchor="middle" font-family='"Liberation Sans", sans-serif' textLength="38" lengthAdjust="spacingAndGlyphs" >TIERUNG</text><text x="1246" y="553.5" font-size="6" fill="#e8f0f2" font-weight="normal" text-anchor="end" font-family='"Liberation Sans", sans-serif' textLength="11" lengthAdjust="spacingAndGlyphs" >Mit</text><text x="1245.5" y="569.8" font-size="12" fill="#fff" font-weight="bold" text-anchor="end" font-family='"Liberation Sans", sans-serif' textLength="61.5" lengthAdjust="spacingAndGlyphs" >EMPATHIE</text><text x="1246" y="580.5" font-size="6" fill="#e8f0f2" font-weight="normal" text-anchor="end" font-family='"Liberation Sans", sans-serif' textLength="43.5" lengthAdjust="spacingAndGlyphs" >Erkenntnisse</text><text x="1246" y="587.6" font-size="6" fill="#e8f0f2" font-weight="normal" text-anchor="end" font-family='"Liberation Sans", sans-serif' textLength="31" lengthAdjust="spacingAndGlyphs" >sammeln</text><text x="1263.7" y="553.5" font-size="6" fill="#eef0f0" font-weight="normal" text-anchor="start" font-family='"Liberation Sans", sans-serif' textLength="56.5" lengthAdjust="spacingAndGlyphs" >Das Problem neu</text><text x="1263.7" y="569.8" font-size="12" fill="#fff" font-weight="bold" text-anchor="start" font-family='"Liberation Sans", sans-serif' textLength="74.7" lengthAdjust="spacingAndGlyphs" >DEFINIEREN</text><text x="1440" y="553.5" font-size="6" fill="#f2ecec" font-weight="normal" text-anchor="end" font-family='"Liberation Sans", sans-serif' textLength="30.5" lengthAdjust="spacingAndGlyphs" >Lösungs-</text><text x="1440.7" y="569.8" font-size="12" fill="#fff" font-weight="bold" text-anchor="end" font-family='"Liberation Sans", sans-serif' textLength="37.8" lengthAdjust="spacingAndGlyphs" >IDEEN</text><text x="1440" y="580.8" font-size="6" fill="#f2ecec" font-weight="normal" text-anchor="end" font-family='"Liberation Sans", sans-serif' textLength="37.2" lengthAdjust="spacingAndGlyphs" >entwickeln</text><text x="1464.5" y="553.5" font-size="6" fill="#f5eeee" font-weight="normal" text-anchor="start" font-family='"Liberation Sans", sans-serif' textLength="55.5" lengthAdjust="spacingAndGlyphs" >grobe, erlebbare</text><text x="1464.5" y="569.8" font-size="12" fill="#fff" font-weight="bold" text-anchor="start" font-family='"Liberation Sans", sans-serif' textLength="80.5" lengthAdjust="spacingAndGlyphs" >PROTOTYPEN</text><text x="1464.5" y="581.2" font-size="6" fill="#f5eeee" font-weight="normal" text-anchor="start" font-family='"Liberation Sans", sans-serif' textLength="20.5" lengthAdjust="spacingAndGlyphs" >bauen</text><text x="1564" y="569.8" font-size="12" fill="#fff" font-weight="bold" text-anchor="start" font-family='"Liberation Sans", sans-serif' textLength="45.6" lengthAdjust="spacingAndGlyphs" >TESTEN</text></g>
</svg></body></html>
